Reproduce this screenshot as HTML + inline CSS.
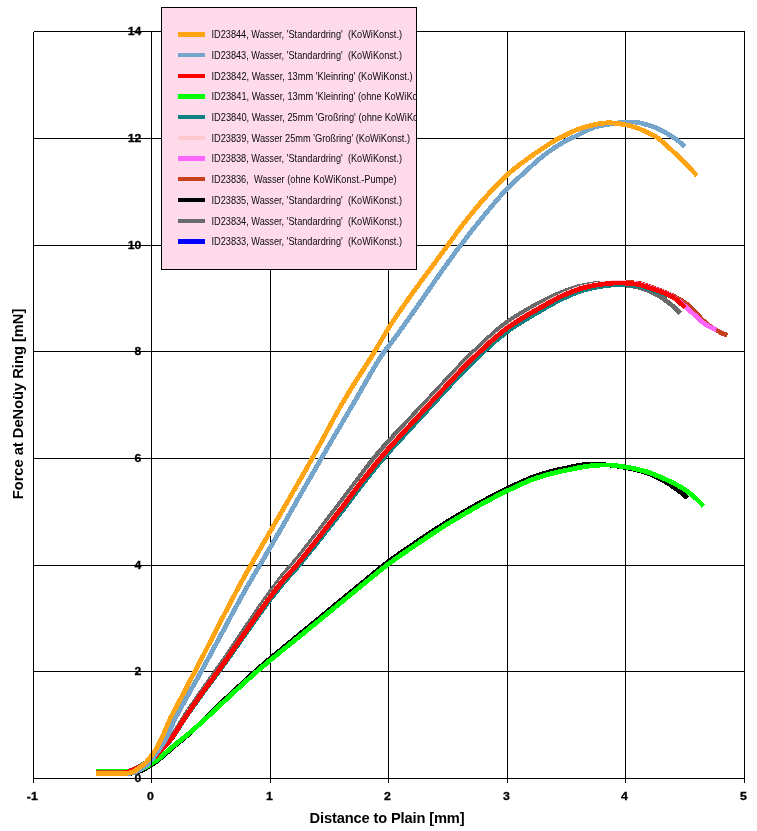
<!DOCTYPE html>
<html><head><meta charset="utf-8"><title>Force at DeNoüy Ring</title>
<style>
html,body{margin:0;padding:0;background:#fff}
svg{display:block}
text{font-family:"Liberation Sans",Arial,sans-serif}
.tk{font-size:11.2px;font-weight:bold;fill:#000;stroke:#000;stroke-width:0.3px}
.ttl{font-size:14.67px;font-weight:bold;fill:#000}
.lg{font-size:10.3px;fill:#0a0a0a}
.c{fill:none;stroke-linejoin:round;stroke-linecap:butt}
</style></head><body>
<svg width="757" height="831" viewBox="0 0 757 831">
<rect width="757" height="831" fill="#fff"/>

<g stroke="#000" stroke-width="1" shape-rendering="crispEdges">
<line x1="33.5" y1="31.5" x2="33.5" y2="782.5"/>
<line x1="151.5" y1="31.5" x2="151.5" y2="782.5"/>
<line x1="270.5" y1="31.5" x2="270.5" y2="782.5"/>
<line x1="388.5" y1="31.5" x2="388.5" y2="782.5"/>
<line x1="507.5" y1="31.5" x2="507.5" y2="782.5"/>
<line x1="625.5" y1="31.5" x2="625.5" y2="782.5"/>
<line x1="744.5" y1="31.5" x2="744.5" y2="782.5"/>
<line x1="33.5" y1="778.5" x2="744.5" y2="778.5"/>
<line x1="33.5" y1="671.5" x2="744.5" y2="671.5"/>
<line x1="33.5" y1="565.5" x2="744.5" y2="565.5"/>
<line x1="33.5" y1="458.5" x2="744.5" y2="458.5"/>
<line x1="33.5" y1="351.5" x2="744.5" y2="351.5"/>
<line x1="33.5" y1="245.5" x2="744.5" y2="245.5"/>
<line x1="33.5" y1="138.5" x2="744.5" y2="138.5"/>
<line x1="33.5" y1="31.5" x2="744.5" y2="31.5"/>
</g>
<g class="c" shape-rendering="crispEdges" stroke-width="4.8">
<path d="M96.0,773.3 L97.3,773.3 L98.6,773.3 L100.0,773.3 L101.3,773.3 L102.6,773.3 L103.9,773.3 L105.3,773.3 L106.6,773.3 L107.9,773.3 L109.2,773.3 L110.5,773.3 L111.9,773.3 L113.2,773.3 L114.5,773.3 L115.8,773.3 L117.2,773.3 L118.5,773.3 L119.8,773.3 L121.1,773.3 L122.4,773.3 L123.8,773.1 L125.1,772.8 L126.4,772.5 L127.7,772.1 L129.1,771.7 L130.4,771.1 L131.7,770.6 L133.0,770.0 L134.3,769.3 L135.7,768.7 L137.0,768.1 L138.3,767.4 L139.6,766.7 L141.0,766.0 L142.3,765.3 L143.6,764.6 L144.9,763.9 L146.2,763.2 L147.6,762.4 L148.9,761.6 L150.2,760.7 L151.5,759.8 L152.9,758.7 L154.2,757.5 L155.5,756.3 L156.8,754.9 L158.1,753.5 L159.5,752.1 L160.8,750.7 L162.1,749.2 L163.4,747.7 L164.8,746.2 L166.1,744.8 L167.4,743.3 L168.7,741.9 L170.0,740.3 L171.4,738.6 L172.7,736.8 L174.0,734.8 L175.3,732.7 L176.7,730.6 L178.0,728.6 L179.3,726.5 L180.6,724.4 L181.9,722.3 L183.3,720.2 L184.6,718.2 L185.9,716.2 L187.2,714.3 L188.6,712.3 L189.9,710.4 L191.2,708.5 L192.5,706.6 L193.8,704.7 L195.2,702.8 L196.5,701.0 L197.8,699.1 L199.1,697.2 L200.5,695.4 L201.8,693.5 L203.1,691.7 L204.4,689.9 L205.7,688.0 L207.1,686.2 L208.4,684.4 L209.7,682.6 L211.0,680.8 L212.4,679.0 L213.7,677.2 L215.0,675.4 L216.3,673.6 L217.6,671.8 L219.0,670.0 L220.3,668.1 L221.6,666.3 L222.9,664.4 L224.3,662.6 L225.6,660.7 L226.9,658.8 L228.2,656.9 L229.5,655.0 L230.9,653.1 L232.2,651.2 L233.5,649.3 L234.8,647.4 L236.2,645.5 L237.5,643.6 L238.8,641.6 L240.1,639.7 L241.4,637.8 L242.8,635.9 L244.1,634.0 L245.4,632.1 L246.7,630.1 L248.1,628.2 L249.4,626.3 L250.7,624.4 L252.0,622.5 L253.3,620.6 L254.7,618.7 L256.0,616.8 L257.3,615.0 L258.6,613.1 L260.0,611.2 L261.3,609.4 L262.6,607.5 L263.9,605.7 L265.2,603.9 L266.6,602.0 L267.9,600.2 L269.2,598.4 L270.5,596.7 L271.9,594.9 L273.2,593.1 L274.5,591.4 L275.8,589.7 L277.1,588.0 L278.5,586.3 L279.8,584.6 L281.1,583.0 L282.4,581.3 L283.8,579.7 L285.1,578.2 L286.4,576.7 L287.7,575.2 L289.0,573.7 L290.4,572.2 L291.7,570.8 L293.0,569.3 L294.3,567.8 L295.7,566.3 L297.0,564.7 L298.3,563.1 L299.6,561.5 L300.9,559.9 L302.3,558.3 L303.6,556.7 L304.9,555.0 L306.2,553.4 L307.6,551.7 L308.9,550.1 L310.2,548.4 L311.5,546.7 L312.8,545.1 L314.2,543.4 L315.5,541.7 L316.8,540.0 L318.1,538.3 L319.5,536.6 L320.8,534.9 L322.1,533.2 L323.4,531.5 L324.7,529.8 L326.1,528.1 L327.4,526.4 L328.7,524.7 L330.0,523.0 L331.4,521.3 L332.7,519.7 L334.0,518.0 L335.3,516.3 L336.6,514.6 L338.0,512.8 L339.3,511.1 L340.6,509.4 L341.9,507.7 L343.3,505.9 L344.6,504.2 L345.9,502.5 L347.2,500.7 L348.5,499.0 L349.9,497.2 L351.2,495.5 L352.5,493.7 L353.8,492.0 L355.2,490.2 L356.5,488.5 L357.8,486.8 L359.1,485.0 L360.4,483.3 L361.8,481.6 L363.1,479.9 L364.4,478.2 L365.7,476.5 L367.1,474.8 L368.4,473.1 L369.7,471.4 L371.0,469.7 L372.3,468.1 L373.7,466.4 L375.0,464.8 L376.3,463.2 L377.6,461.6 L378.9,460.0 L380.3,458.4 L381.6,456.9 L382.9,455.3 L384.2,453.8 L385.6,452.2 L386.9,450.7 L388.2,449.2 L389.5,447.7 L390.8,446.2 L392.2,444.8 L393.5,443.3 L394.8,441.8 L396.1,440.4 L397.5,438.9 L398.8,437.5 L400.1,436.0 L401.4,434.6 L402.7,433.2 L404.1,431.7 L405.4,430.3 L406.7,428.9 L408.0,427.5 L409.4,426.0 L410.7,424.6 L412.0,423.2 L413.3,421.8 L414.6,420.3 L416.0,418.9 L417.3,417.5 L418.6,416.0 L419.9,414.6 L421.3,413.2 L422.6,411.7 L423.9,410.3 L425.2,408.8 L426.5,407.4 L427.9,405.9 L429.2,404.5 L430.5,403.1 L431.8,401.6 L433.2,400.2 L434.5,398.7 L435.8,397.3 L437.1,395.9 L438.4,394.4 L439.8,393.0 L441.1,391.5 L442.4,390.1 L443.7,388.7 L445.1,387.3 L446.4,385.8 L447.7,384.4 L449.0,383.0 L450.3,381.6 L451.7,380.2 L453.0,378.8 L454.3,377.4 L455.6,376.0 L457.0,374.6 L458.3,373.2 L459.6,371.9 L460.9,370.5 L462.2,369.1 L463.6,367.8 L464.9,366.5 L466.2,365.1 L467.5,363.8 L468.9,362.5 L470.2,361.1 L471.5,359.8 L472.8,358.5 L474.1,357.3 L475.5,356.0 L476.8,354.7 L478.1,353.4 L479.4,352.2 L480.8,351.0 L482.1,349.7 L483.4,348.5 L484.7,347.3 L486.0,346.0 L487.4,344.8 L488.7,343.6 L490.0,342.4 L491.3,341.2 L492.7,340.0 L494.0,338.8 L495.3,337.7 L496.6,336.6 L497.9,335.4 L499.3,334.3 L500.6,333.2 L501.9,332.2 L503.2,331.1 L504.6,330.1 L505.9,329.1 L507.2,328.2 L508.5,327.2 L509.8,326.3 L511.2,325.4 L512.5,324.5 L513.8,323.6 L515.1,322.7 L516.5,321.8 L517.8,321.0 L519.1,320.2 L520.4,319.3 L521.7,318.5 L523.1,317.7 L524.4,316.9 L525.7,316.1 L527.0,315.3 L528.4,314.6 L529.7,313.8 L531.0,313.0 L532.3,312.3 L533.6,311.5 L535.0,310.8 L536.3,310.0 L537.6,309.3 L538.9,308.5 L540.3,307.8 L541.6,307.0 L542.9,306.3 L544.2,305.5 L545.5,304.8 L546.9,304.0 L548.2,303.3 L549.5,302.5 L550.8,301.8 L552.2,301.0 L553.5,300.3 L554.8,299.6 L556.1,298.9 L557.4,298.2 L558.8,297.6 L560.1,296.9 L561.4,296.3 L562.7,295.7 L564.1,295.1 L565.4,294.5 L566.7,294.0 L568.0,293.4 L569.3,292.8 L570.7,292.3 L572.0,291.8 L573.3,291.2 L574.6,290.7 L576.0,290.2 L577.3,289.8 L578.6,289.3 L579.9,288.9 L581.2,288.5 L582.6,288.1 L583.9,287.8 L585.2,287.4 L586.5,287.1 L587.9,286.8 L589.2,286.5 L590.5,286.2 L591.8,286.0 L593.1,285.7 L594.5,285.4 L595.8,285.2 L597.1,285.0 L598.4,284.7 L599.8,284.5 L601.1,284.3 L602.4,284.2 L603.7,284.0 L605.0,283.9 L606.4,283.7 L607.7,283.6 L609.0,283.5 L610.3,283.3 L611.7,283.2 L613.0,283.1 L614.3,283.0 L615.6,283.0 L616.9,282.9 L618.3,282.9 L619.6,282.9 L620.9,282.9 L622.2,283.0 L623.6,283.0 L624.9,283.1 L626.2,283.2 L627.5,283.3 L628.8,283.4 L630.2,283.5 L631.5,283.7 L632.8,283.8 L634.1,283.9 L635.5,284.1 L636.8,284.2 L638.1,284.4 L639.4,284.7 L640.7,284.9 L642.1,285.3 L643.4,285.7 L644.7,286.1 L646.0,286.5 L647.4,287.0 L648.7,287.5 L650.0,287.9" stroke="#0000FF"/>
<path d="M96.0,773.3 L97.2,773.3 L98.3,773.3 L99.5,773.3 L100.7,773.2 L101.9,773.2 L103.0,773.2 L104.2,773.2 L105.4,773.2 L106.5,773.2 L107.7,773.2 L108.9,773.2 L110.1,773.1 L111.2,773.1 L112.4,773.1 L113.6,773.1 L114.7,773.1 L115.9,773.1 L117.1,773.1 L118.3,773.0 L119.4,773.0 L120.6,773.0 L121.8,773.0 L122.9,773.0 L124.1,772.8 L125.3,772.6 L126.4,772.2 L127.6,771.8 L128.8,771.4 L130.0,770.9 L131.1,770.4 L132.3,769.9 L133.5,769.4 L134.6,768.8 L135.8,768.3 L137.0,767.6 L138.2,767.0 L139.3,766.4 L140.5,765.7 L141.7,765.1 L142.8,764.4 L144.0,763.7 L145.2,763.1 L146.4,762.4 L147.5,761.6 L148.7,760.8 L149.9,760.0 L151.0,759.1 L152.2,758.1 L153.4,757.0 L154.6,755.9 L155.7,754.7 L156.9,753.5 L158.1,752.3 L159.2,751.1 L160.4,749.9 L161.6,748.6 L162.8,747.3 L163.9,746.0 L165.1,744.7 L166.3,743.3 L167.4,741.8 L168.6,740.3 L169.8,738.8 L171.0,737.2 L172.1,735.5 L173.3,733.8 L174.5,732.1 L175.6,730.4 L176.8,728.6 L178.0,726.8 L179.2,725.0 L180.3,723.1 L181.5,721.2 L182.7,719.3 L183.8,717.4 L185.0,715.5 L186.2,713.7 L187.3,712.0 L188.5,710.2 L189.7,708.5 L190.9,706.8 L192.0,705.0 L193.2,703.3 L194.4,701.6 L195.5,699.9 L196.7,698.2 L197.9,696.5 L199.1,694.8 L200.2,693.2 L201.4,691.5 L202.6,689.8 L203.7,688.1 L204.9,686.5 L206.1,684.8 L207.3,683.2 L208.4,681.6 L209.6,679.9 L210.8,678.3 L211.9,676.7 L213.1,675.0 L214.3,673.4 L215.5,671.7 L216.6,670.1 L217.8,668.4 L219.0,666.8 L220.1,665.1 L221.3,663.4 L222.5,661.7 L223.7,660.1 L224.8,658.4 L226.0,656.6 L227.2,654.9 L228.3,653.2 L229.5,651.5 L230.7,649.8 L231.9,648.1 L233.0,646.3 L234.2,644.6 L235.4,642.9 L236.5,641.1 L237.7,639.4 L238.9,637.6 L240.1,635.9 L241.2,634.2 L242.4,632.4 L243.6,630.7 L244.7,628.9 L245.9,627.2 L247.1,625.4 L248.2,623.7 L249.4,622.0 L250.6,620.3 L251.8,618.5 L252.9,616.8 L254.1,615.1 L255.3,613.4 L256.4,611.7 L257.6,610.0 L258.8,608.3 L260.0,606.6 L261.1,604.9 L262.3,603.2 L263.5,601.5 L264.6,599.9 L265.8,598.2 L267.0,596.6 L268.2,594.9 L269.3,593.3 L270.5,591.7 L271.7,590.1 L272.8,588.5 L274.0,586.9 L275.2,585.3 L276.4,583.8 L277.5,582.2 L278.7,580.7 L279.9,579.2 L281.0,577.7 L282.2,576.2 L283.4,574.7 L284.6,573.3 L285.7,571.9 L286.9,570.5 L288.1,569.2 L289.2,567.9 L290.4,566.5 L291.6,565.2 L292.8,563.8 L293.9,562.4 L295.1,561.0 L296.3,559.6 L297.4,558.2 L298.6,556.8 L299.8,555.3 L300.9,553.9 L302.1,552.4 L303.3,550.9 L304.5,549.4 L305.6,547.9 L306.8,546.4 L308.0,544.9 L309.1,543.4 L310.3,541.9 L311.5,540.4 L312.7,538.9 L313.8,537.3 L315.0,535.8 L316.2,534.3 L317.3,532.7 L318.5,531.2 L319.7,529.6 L320.9,528.1 L322.0,526.6 L323.2,525.0 L324.4,523.5 L325.5,521.9 L326.7,520.4 L327.9,518.8 L329.1,517.3 L330.2,515.8 L331.4,514.2 L332.6,512.7 L333.7,511.2 L334.9,509.7 L336.1,508.2 L337.3,506.6 L338.4,505.1 L339.6,503.5 L340.8,502.0 L341.9,500.4 L343.1,498.9 L344.3,497.3 L345.5,495.7 L346.6,494.2 L347.8,492.6 L349.0,491.0 L350.1,489.5 L351.3,487.9 L352.5,486.3 L353.7,484.7 L354.8,483.2 L356.0,481.6 L357.2,480.1 L358.3,478.5 L359.5,476.9 L360.7,475.4 L361.8,473.8 L363.0,472.3 L364.2,470.7 L365.4,469.2 L366.5,467.7 L367.7,466.2 L368.9,464.6 L370.0,463.1 L371.2,461.6 L372.4,460.2 L373.6,458.7 L374.7,457.2 L375.9,455.8 L377.1,454.3 L378.2,452.9 L379.4,451.5 L380.6,450.1 L381.8,448.7 L382.9,447.4 L384.1,446.1 L385.3,444.8 L386.4,443.5 L387.6,442.2 L388.8,440.9 L390.0,439.6 L391.1,438.4 L392.3,437.1 L393.5,435.9 L394.6,434.6 L395.8,433.4 L397.0,432.1 L398.2,430.9 L399.3,429.7 L400.5,428.4 L401.7,427.2 L402.8,426.0 L404.0,424.8 L405.2,423.6 L406.4,422.3 L407.5,421.1 L408.7,419.9 L409.9,418.7 L411.0,417.5 L412.2,416.3 L413.4,415.0 L414.6,413.8 L415.7,412.6 L416.9,411.4 L418.1,410.2 L419.2,408.9 L420.4,407.7 L421.6,406.5 L422.7,405.3 L423.9,404.0 L425.1,402.8 L426.3,401.6 L427.4,400.3 L428.6,399.1 L429.8,397.8 L430.9,396.5 L432.1,395.3 L433.3,394.0 L434.5,392.7 L435.6,391.5 L436.8,390.2 L438.0,388.9 L439.1,387.7 L440.3,386.4 L441.5,385.1 L442.7,383.9 L443.8,382.6 L445.0,381.3 L446.2,380.1 L447.3,378.8 L448.5,377.6 L449.7,376.3 L450.9,375.1 L452.0,373.8 L453.2,372.6 L454.4,371.3 L455.5,370.1 L456.7,368.9 L457.9,367.7 L459.1,366.4 L460.2,365.2 L461.4,364.0 L462.6,362.8 L463.7,361.6 L464.9,360.4 L466.1,359.2 L467.3,358.1 L468.4,356.9 L469.6,355.7 L470.8,354.6 L471.9,353.4 L473.1,352.3 L474.3,351.1 L475.5,350.0 L476.6,348.9 L477.8,347.8 L479.0,346.6 L480.1,345.5 L481.3,344.4 L482.5,343.3 L483.6,342.2 L484.8,341.1 L486.0,340.1 L487.2,339.0 L488.3,337.9 L489.5,336.9 L490.7,335.8 L491.8,334.7 L493.0,333.7 L494.2,332.7 L495.4,331.6 L496.5,330.6 L497.7,329.6 L498.9,328.7 L500.0,327.7 L501.2,326.8 L502.4,325.8 L503.6,324.9 L504.7,324.0 L505.9,323.1 L507.1,322.3 L508.2,321.4 L509.4,320.6 L510.6,319.8 L511.8,319.0 L512.9,318.3 L514.1,317.5 L515.3,316.8 L516.4,316.0 L517.6,315.3 L518.8,314.6 L520.0,313.9 L521.1,313.2 L522.3,312.5 L523.5,311.8 L524.6,311.1 L525.8,310.4 L527.0,309.8 L528.2,309.1 L529.3,308.4 L530.5,307.8 L531.7,307.1 L532.8,306.5 L534.0,305.8 L535.2,305.2 L536.3,304.5 L537.5,303.9 L538.7,303.2 L539.9,302.6 L541.0,302.0 L542.2,301.4 L543.4,300.8 L544.5,300.2 L545.7,299.6 L546.9,299.0 L548.1,298.5 L549.2,297.9 L550.4,297.3 L551.6,296.8 L552.7,296.2 L553.9,295.7 L555.1,295.2 L556.3,294.7 L557.4,294.2 L558.6,293.7 L559.8,293.2 L560.9,292.7 L562.1,292.3 L563.3,291.8 L564.5,291.4 L565.6,291.0 L566.8,290.6 L568.0,290.1 L569.1,289.7 L570.3,289.3 L571.5,288.9 L572.7,288.5 L573.8,288.1 L575.0,287.8 L576.2,287.4 L577.3,287.1 L578.5,286.7 L579.7,286.4 L580.9,286.1 L582.0,285.9 L583.2,285.6 L584.4,285.4 L585.5,285.2 L586.7,285.0 L587.9,284.8 L589.1,284.6 L590.2,284.4 L591.4,284.3 L592.6,284.1 L593.7,283.9 L594.9,283.7 L596.1,283.6 L597.2,283.5 L598.4,283.3 L599.6,283.2 L600.8,283.1 L601.9,283.1 L603.1,283.0 L604.3,283.0 L605.4,283.0 L606.6,283.0 L607.8,283.1 L609.0,283.1 L610.1,283.2 L611.3,283.3 L612.5,283.4 L613.6,283.6 L614.8,283.7 L616.0,283.8 L617.2,284.0 L618.3,284.1 L619.5,284.2 L620.7,284.4 L621.8,284.5 L623.0,284.6 L624.2,284.8 L625.4,284.9 L626.5,285.1 L627.7,285.2 L628.9,285.4 L630.0,285.6 L631.2,285.8 L632.4,286.0 L633.6,286.2 L634.7,286.4 L635.9,286.6 L637.1,286.9 L638.2,287.1 L639.4,287.4 L640.6,287.8 L641.8,288.1 L642.9,288.5 L644.1,288.9 L645.3,289.3 L646.4,289.8 L647.6,290.3 L648.8,290.8 L650.0,291.3 L651.1,291.8 L652.3,292.3 L653.5,292.9 L654.6,293.5 L655.8,294.1 L657.0,294.7 L658.1,295.4 L659.3,296.1 L660.5,296.8 L661.7,297.6 L662.8,298.4 L664.0,299.3 L665.2,300.1 L666.3,301.0 L667.5,301.9 L668.7,302.8 L669.9,303.7 L671.0,304.6 L672.2,305.6 L673.4,306.6 L674.5,307.6 L675.7,308.7 L676.9,309.8 L678.1,310.9 L679.2,312.0 L680.4,313.2" stroke="#6A6A6A"/>
<path d="M96.0,773.3 L97.4,773.3 L98.8,773.3 L100.2,773.3 L101.6,773.3 L103.1,773.3 L104.5,773.3 L105.9,773.3 L107.3,773.3 L108.7,773.3 L110.1,773.3 L111.5,773.3 L112.9,773.3 L114.3,773.3 L115.8,773.3 L117.2,773.3 L118.6,773.3 L120.0,773.3 L121.4,773.3 L122.8,773.3 L124.2,773.3 L125.6,773.3 L127.1,773.3 L128.5,773.3 L129.9,773.3 L131.3,773.2 L132.7,773.0 L134.1,772.7 L135.5,772.3 L136.9,771.9 L138.3,771.4 L139.8,771.0 L141.2,770.5 L142.6,769.9 L144.0,769.2 L145.4,768.5 L146.8,767.7 L148.2,766.8 L149.6,765.9 L151.0,764.9 L152.5,764.0 L153.9,763.1 L155.3,762.1 L156.7,761.2 L158.1,760.1 L159.5,759.0 L160.9,757.8 L162.3,756.6 L163.7,755.4 L165.2,754.1 L166.6,752.9 L168.0,751.7 L169.4,750.4 L170.8,749.2 L172.2,748.0 L173.6,746.7 L175.0,745.5 L176.5,744.4 L177.9,743.2 L179.3,742.1 L180.7,741.0 L182.1,739.8 L183.5,738.7 L184.9,737.6 L186.3,736.3 L187.7,735.1 L189.2,733.8 L190.6,732.5 L192.0,731.2 L193.4,729.9 L194.8,728.5 L196.2,727.2 L197.6,725.9 L199.0,724.5 L200.4,723.2 L201.9,721.8 L203.3,720.4 L204.7,719.1 L206.1,717.7 L207.5,716.3 L208.9,714.9 L210.3,713.5 L211.7,712.1 L213.2,710.6 L214.6,709.2 L216.0,707.9 L217.4,706.5 L218.8,705.2 L220.2,703.9 L221.6,702.5 L223.0,701.2 L224.4,699.9 L225.9,698.5 L227.3,697.2 L228.7,695.9 L230.1,694.6 L231.5,693.3 L232.9,692.0 L234.3,690.7 L235.7,689.3 L237.1,688.0 L238.6,686.7 L240.0,685.4 L241.4,684.1 L242.8,682.8 L244.2,681.5 L245.6,680.2 L247.0,678.9 L248.4,677.6 L249.8,676.3 L251.3,675.0 L252.7,673.7 L254.1,672.5 L255.5,671.2 L256.9,670.0 L258.3,668.7 L259.7,667.5 L261.1,666.3 L262.6,665.1 L264.0,663.9 L265.4,662.6 L266.8,661.4 L268.2,660.2 L269.6,659.1 L271.0,657.9 L272.4,656.7 L273.8,655.5 L275.3,654.3 L276.7,653.2 L278.1,652.0 L279.5,650.8 L280.9,649.7 L282.3,648.5 L283.7,647.3 L285.1,646.2 L286.5,645.0 L288.0,643.9 L289.4,642.7 L290.8,641.6 L292.2,640.4 L293.6,639.3 L295.0,638.1 L296.4,636.9 L297.8,635.8 L299.2,634.6 L300.7,633.5 L302.1,632.3 L303.5,631.2 L304.9,630.0 L306.3,628.9 L307.7,627.7 L309.1,626.5 L310.5,625.4 L312.0,624.2 L313.4,623.0 L314.8,621.9 L316.2,620.7 L317.6,619.6 L319.0,618.4 L320.4,617.2 L321.8,616.1 L323.2,614.9 L324.7,613.7 L326.1,612.6 L327.5,611.4 L328.9,610.2 L330.3,609.1 L331.7,607.9 L333.1,606.8 L334.5,605.6 L335.9,604.4 L337.4,603.3 L338.8,602.1 L340.2,601.0 L341.6,599.8 L343.0,598.6 L344.4,597.5 L345.8,596.3 L347.2,595.2 L348.7,594.0 L350.1,592.8 L351.5,591.7 L352.9,590.5 L354.3,589.4 L355.7,588.2 L357.1,587.1 L358.5,585.9 L359.9,584.8 L361.4,583.6 L362.8,582.5 L364.2,581.3 L365.6,580.1 L367.0,579.0 L368.4,577.8 L369.8,576.6 L371.2,575.4 L372.6,574.3 L374.1,573.1 L375.5,571.9 L376.9,570.8 L378.3,569.6 L379.7,568.5 L381.1,567.4 L382.5,566.3 L383.9,565.1 L385.3,564.0 L386.8,563.0 L388.2,561.9 L389.6,560.8 L391.0,559.8 L392.4,558.7 L393.8,557.7 L395.2,556.7 L396.6,555.7 L398.1,554.7 L399.5,553.7 L400.9,552.8 L402.3,551.8 L403.7,550.8 L405.1,549.9 L406.5,548.9 L407.9,547.9 L409.3,547.0 L410.8,546.0 L412.2,545.0 L413.6,544.1 L415.0,543.1 L416.4,542.1 L417.8,541.2 L419.2,540.2 L420.6,539.3 L422.0,538.3 L423.5,537.3 L424.9,536.4 L426.3,535.4 L427.7,534.5 L429.1,533.6 L430.5,532.6 L431.9,531.7 L433.3,530.8 L434.7,529.8 L436.2,528.9 L437.6,528.0 L439.0,527.1 L440.4,526.2 L441.8,525.3 L443.2,524.4 L444.6,523.5 L446.0,522.6 L447.5,521.7 L448.9,520.9 L450.3,520.0 L451.7,519.2 L453.1,518.3 L454.5,517.4 L455.9,516.6 L457.3,515.8 L458.7,514.9 L460.2,514.1 L461.6,513.2 L463.0,512.4 L464.4,511.6 L465.8,510.8 L467.2,510.0 L468.6,509.1 L470.0,508.3 L471.4,507.5 L472.9,506.7 L474.3,505.9 L475.7,505.1 L477.1,504.3 L478.5,503.6 L479.9,502.8 L481.3,502.0 L482.7,501.2 L484.2,500.5 L485.6,499.7 L487.0,498.9 L488.4,498.2 L489.8,497.4 L491.2,496.7 L492.6,495.9 L494.0,495.2 L495.4,494.4 L496.9,493.7 L498.3,493.0 L499.7,492.2 L501.1,491.5 L502.5,490.8 L503.9,490.1 L505.3,489.5 L506.7,488.8 L508.1,488.1 L509.6,487.4 L511.0,486.8 L512.4,486.1 L513.8,485.4 L515.2,484.8 L516.6,484.1 L518.0,483.5 L519.4,482.8 L520.8,482.2 L522.3,481.5 L523.7,480.9 L525.1,480.3 L526.5,479.7 L527.9,479.1 L529.3,478.5 L530.7,477.9 L532.1,477.4 L533.6,476.8 L535.0,476.3 L536.4,475.9 L537.8,475.4 L539.2,474.9 L540.6,474.5 L542.0,474.1 L543.4,473.6 L544.8,473.2 L546.3,472.8 L547.7,472.4 L549.1,472.1 L550.5,471.7 L551.9,471.3 L553.3,471.0 L554.7,470.6 L556.1,470.3 L557.5,469.9 L559.0,469.6 L560.4,469.3 L561.8,469.0 L563.2,468.7 L564.6,468.4 L566.0,468.1 L567.4,467.8 L568.8,467.5 L570.2,467.2 L571.7,466.9 L573.1,466.6 L574.5,466.3 L575.9,466.0 L577.3,465.8 L578.7,465.5 L580.1,465.3 L581.5,465.0 L583.0,464.8 L584.4,464.5 L585.8,464.4 L587.2,464.4 L588.6,464.3 L590.0,464.3 L591.4,464.3 L592.8,464.3 L594.2,464.3 L595.7,464.4 L597.1,464.4 L598.5,464.4 L599.9,464.5 L601.3,464.5 L602.7,464.6 L604.1,464.7 L605.5,464.9 L606.9,464.9 L608.4,465.0 L609.8,465.1 L611.2,465.2 L612.6,465.3 L614.0,465.5 L615.4,465.7 L616.8,466.0 L618.2,466.2 L619.7,466.4 L621.1,466.7 L622.5,467.0 L623.9,467.2 L625.3,467.5 L626.7,467.7 L628.1,468.0 L629.5,468.3 L630.9,468.5 L632.4,468.9 L633.8,469.2 L635.2,469.5 L636.6,469.9 L638.0,470.2 L639.4,470.6 L640.8,471.0 L642.2,471.4 L643.6,471.9 L645.1,472.3 L646.5,472.8 L647.9,473.3 L649.3,473.8 L650.7,474.3 L652.1,474.9 L653.5,475.6 L654.9,476.2 L656.3,476.9 L657.8,477.6 L659.2,478.3 L660.6,479.1 L662.0,479.8 L663.4,480.6 L664.8,481.3 L666.2,482.2 L667.6,483.1 L669.1,484.0 L670.5,484.9 L671.9,485.9 L673.3,486.9 L674.7,487.9 L676.1,488.9 L677.5,490.0 L678.9,491.0 L680.3,492.1 L681.8,493.2 L683.2,494.4 L684.6,495.5 L686.0,496.7 L687.4,497.9" stroke="#000000"/>
<path d="M96.0,772.6 L97.5,772.6 L99.0,772.6 L100.5,772.6 L102.0,772.6 L103.5,772.6 L105.0,772.6 L106.5,772.6 L108.1,772.6 L109.6,772.6 L111.1,772.6 L112.6,772.6 L114.1,772.6 L115.6,772.6 L117.1,772.6 L118.6,772.6 L120.1,772.6 L121.6,772.6 L123.1,772.6 L124.6,772.4 L126.1,772.1 L127.6,771.7 L129.1,771.3 L130.7,770.8 L132.2,770.2 L133.7,769.6 L135.2,769.0 L136.7,768.2 L138.2,767.5 L139.7,766.7 L141.2,765.9 L142.7,765.1 L144.2,764.3 L145.7,763.5 L147.2,762.6 L148.7,761.7 L150.2,760.7 L151.7,759.6 L153.3,758.4 L154.8,757.0 L156.3,755.5 L157.8,753.9 L159.3,752.3 L160.8,750.7 L162.3,749.0 L163.8,747.3 L165.3,745.6 L166.8,744.0 L168.3,742.3 L169.8,740.6 L171.3,738.7 L172.8,736.5 L174.3,734.3 L175.9,731.9 L177.4,729.5 L178.9,727.2 L180.4,724.8 L181.9,722.4 L183.4,720.0 L184.9,717.7 L186.4,715.5 L187.9,713.3 L189.4,711.1 L190.9,708.9 L192.4,706.7 L193.9,704.6 L195.4,702.4 L196.9,700.3 L198.5,698.2 L200.0,696.1 L201.5,693.9 L203.0,691.8 L204.5,689.8 L206.0,687.7 L207.5,685.6 L209.0,683.6 L210.5,681.5 L212.0,679.5 L213.5,677.4 L215.0,675.4 L216.5,673.3 L218.0,671.2 L219.5,669.2 L221.1,667.1 L222.6,664.9 L224.1,662.8 L225.6,660.7 L227.1,658.5 L228.6,656.4 L230.1,654.2 L231.6,652.1 L233.1,649.9 L234.6,647.7 L236.1,645.5 L237.6,643.3 L239.1,641.2 L240.6,639.0 L242.1,636.8 L243.7,634.6 L245.2,632.4 L246.7,630.2 L248.2,628.0 L249.7,625.9 L251.2,623.7 L252.7,621.5 L254.2,619.4 L255.7,617.2 L257.2,615.1 L258.7,612.9 L260.2,610.8 L261.7,608.7 L263.2,606.6 L264.7,604.5 L266.3,602.5 L267.8,600.4 L269.3,598.4 L270.8,596.3 L272.3,594.3 L273.8,592.3 L275.3,590.4 L276.8,588.4 L278.3,586.5 L279.8,584.6 L281.3,582.7 L282.8,580.8 L284.3,579.0 L285.8,577.3 L287.3,575.6 L288.9,573.9 L290.4,572.2 L291.9,570.6 L293.4,568.9 L294.9,567.2 L296.4,565.4 L297.9,563.6 L299.4,561.8 L300.9,560.0 L302.4,558.1 L303.9,556.3 L305.4,554.4 L306.9,552.5 L308.4,550.6 L309.9,548.7 L311.5,546.8 L313.0,544.9 L314.5,543.0 L316.0,541.1 L317.5,539.1 L319.0,537.2 L320.5,535.3 L322.0,533.3 L323.5,531.4 L325.0,529.5 L326.5,527.5 L328.0,525.6 L329.5,523.7 L331.0,521.7 L332.5,519.8 L334.1,517.9 L335.6,515.9 L337.1,514.0 L338.6,512.0 L340.1,510.1 L341.6,508.1 L343.1,506.1 L344.6,504.2 L346.1,502.2 L347.6,500.2 L349.1,498.2 L350.6,496.2 L352.1,494.2 L353.6,492.2 L355.1,490.2 L356.7,488.3 L358.2,486.3 L359.7,484.3 L361.2,482.3 L362.7,480.4 L364.2,478.4 L365.7,476.5 L367.2,474.6 L368.7,472.6 L370.2,470.7 L371.7,468.8 L373.2,467.0 L374.7,465.1 L376.2,463.3 L377.7,461.4 L379.3,459.6 L380.8,457.8 L382.3,456.1 L383.8,454.3 L385.3,452.6 L386.8,450.8 L388.3,449.1 L389.8,447.4 L391.3,445.7 L392.8,444.1 L394.3,442.4 L395.8,440.7 L397.3,439.1 L398.8,437.4 L400.3,435.8 L401.9,434.1 L403.4,432.5 L404.9,430.9 L406.4,429.3 L407.9,427.6 L409.4,426.0 L410.9,424.4 L412.4,422.8 L413.9,421.1 L415.4,419.5 L416.9,417.9 L418.4,416.2 L419.9,414.6 L421.4,413.0 L423.0,411.3 L424.5,409.7 L426.0,408.0 L427.5,406.4 L429.0,404.7 L430.5,403.1 L432.0,401.4 L433.5,399.8 L435.0,398.2 L436.5,396.5 L438.0,394.9 L439.5,393.2 L441.0,391.6 L442.5,390.0 L444.0,388.4 L445.6,386.7 L447.1,385.1 L448.6,383.5 L450.1,381.9 L451.6,380.3 L453.1,378.7 L454.6,377.1 L456.1,375.5 L457.6,374.0 L459.1,372.4 L460.6,370.8 L462.1,369.3 L463.6,367.7 L465.1,366.2 L466.6,364.7 L468.2,363.2 L469.7,361.7 L471.2,360.2 L472.7,358.7 L474.2,357.2 L475.7,355.8 L477.2,354.3 L478.7,352.9 L480.2,351.5 L481.7,350.1 L483.2,348.7 L484.7,347.3 L486.2,345.9 L487.7,344.5 L489.2,343.1 L490.8,341.7 L492.3,340.4 L493.8,339.0 L495.3,337.7 L496.8,336.4 L498.3,335.1 L499.8,333.9 L501.3,332.7 L502.8,331.5 L504.3,330.3 L505.8,329.2 L507.3,328.1 L508.8,327.0 L510.3,325.9 L511.8,324.9 L513.4,323.9 L514.9,322.9 L516.4,321.9 L517.9,320.9 L519.4,320.0 L520.9,319.0 L522.4,318.1 L523.9,317.2 L525.4,316.3 L526.9,315.4 L528.4,314.5 L529.9,313.6 L531.4,312.8 L532.9,311.9 L534.4,311.0 L536.0,310.2 L537.5,309.3 L539.0,308.5 L540.5,307.6 L542.0,306.8 L543.5,305.9 L545.0,305.1 L546.5,304.2 L548.0,303.4 L549.5,302.5 L551.0,301.7 L552.5,300.8 L554.0,300.0 L555.5,299.2 L557.0,298.4 L558.6,297.7 L560.1,296.9 L561.6,296.2 L563.1,295.5 L564.6,294.9 L566.1,294.2 L567.6,293.6 L569.1,292.9 L570.6,292.3 L572.1,291.7 L573.6,291.1 L575.1,290.5 L576.6,290.0 L578.1,289.5 L579.6,289.0 L581.2,288.5 L582.7,288.1 L584.2,287.7 L585.7,287.3 L587.2,287.0 L588.7,286.6 L590.2,286.3 L591.7,286.0 L593.2,285.7 L594.7,285.4 L596.2,285.1 L597.7,284.9 L599.2,284.6 L600.7,284.4 L602.2,284.1 L603.8,283.9 L605.3,283.7 L606.8,283.5 L608.3,283.3 L609.8,283.1 L611.3,282.9 L612.8,282.8 L614.3,282.6 L615.8,282.5 L617.3,282.4 L618.8,282.3 L620.3,282.3 L621.8,282.3 L623.3,282.3 L624.8,282.4 L626.4,282.4 L627.9,282.5 L629.4,282.6 L630.9,282.7 L632.4,282.8 L633.9,282.9 L635.4,283.0 L636.9,283.2 L638.4,283.3 L639.9,283.6 L641.4,283.9 L642.9,284.3 L644.4,284.8 L645.9,285.3 L647.4,285.8 L649.0,286.4 L650.5,286.9 L652.0,287.5 L653.5,288.0 L655.0,288.5 L656.5,289.1 L658.0,289.6 L659.5,290.2 L661.0,290.7 L662.5,291.3 L664.0,291.9 L665.5,292.5 L667.0,293.2 L668.5,293.8 L670.0,294.5 L671.6,295.2 L673.1,296.0 L674.6,296.7 L676.1,297.5 L677.6,298.3 L679.1,299.1 L680.6,300.0 L682.1,300.9 L683.6,301.9 L685.1,302.9 L686.6,304.0 L688.1,305.1 L689.6,306.4 L691.1,307.9 L692.6,309.5 L694.2,311.3 L695.7,313.0 L697.2,314.6 L698.7,316.1 L700.2,317.6 L701.7,319.2 L703.2,320.6 L704.7,322.0 L706.2,323.3 L707.7,324.5 L709.2,325.6 L710.7,326.7 L712.2,327.7 L713.7,328.7 L715.2,329.6 L716.8,330.4 L718.3,331.2 L719.8,332.0 L721.3,332.8 L722.8,333.5 L724.3,334.2 L725.8,334.8 L727.3,335.4" stroke="#C8401C"/>
<path d="M96.0,773.3 L97.5,773.3 L99.0,773.3 L100.4,773.3 L101.9,773.3 L103.4,773.3 L104.9,773.3 L106.4,773.3 L107.8,773.3 L109.3,773.3 L110.8,773.3 L112.3,773.3 L113.8,773.3 L115.2,773.3 L116.7,773.3 L118.2,773.3 L119.7,773.3 L121.2,773.3 L122.6,773.3 L124.1,773.1 L125.6,772.7 L127.1,772.3 L128.6,771.8 L130.0,771.3 L131.5,770.6 L133.0,770.0 L134.5,769.3 L136.0,768.6 L137.4,767.8 L138.9,767.1 L140.4,766.3 L141.9,765.5 L143.4,764.7 L144.8,763.9 L146.3,763.1 L147.8,762.3 L149.3,761.3 L150.8,760.3 L152.2,759.2 L153.7,758.0 L155.2,756.5 L156.7,755.0 L158.2,753.5 L159.6,751.9 L161.1,750.3 L162.6,748.7 L164.1,747.0 L165.6,745.3 L167.0,743.7 L168.5,742.1 L170.0,740.4 L171.5,738.5 L173.0,736.3 L174.5,734.1 L175.9,731.8 L177.4,729.4 L178.9,727.1 L180.4,724.8 L181.9,722.4 L183.3,720.1 L184.8,717.9 L186.3,715.7 L187.8,713.5 L189.3,711.3 L190.7,709.2 L192.2,707.0 L193.7,704.9 L195.2,702.8 L196.7,700.7 L198.1,698.6 L199.6,696.5 L201.1,694.5 L202.6,692.4 L204.1,690.4 L205.5,688.3 L207.0,686.3 L208.5,684.3 L210.0,682.3 L211.5,680.3 L212.9,678.2 L214.4,676.2 L215.9,674.2 L217.4,672.2 L218.9,670.1 L220.3,668.1 L221.8,666.0 L223.3,663.9 L224.8,661.8 L226.3,659.7 L227.7,657.6 L229.2,655.5 L230.7,653.4 L232.2,651.2 L233.7,649.1 L235.1,647.0 L236.6,644.8 L238.1,642.7 L239.6,640.5 L241.1,638.4 L242.5,636.2 L244.0,634.1 L245.5,631.9 L247.0,629.8 L248.5,627.6 L249.9,625.5 L251.4,623.4 L252.9,621.2 L254.4,619.1 L255.9,617.0 L257.3,614.9 L258.8,612.8 L260.3,610.7 L261.8,608.7 L263.3,606.6 L264.7,604.5 L266.2,602.5 L267.7,600.5 L269.2,598.5 L270.7,596.5 L272.1,594.5 L273.6,592.6 L275.1,590.6 L276.6,588.7 L278.1,586.8 L279.5,584.9 L281.0,583.1 L282.5,581.2 L284.0,579.4 L285.5,577.7 L286.9,576.0 L288.4,574.4 L289.9,572.7 L291.4,571.1 L292.9,569.4 L294.3,567.8 L295.8,566.1 L297.3,564.3 L298.8,562.5 L300.3,560.7 L301.7,558.9 L303.2,557.1 L304.7,555.3 L306.2,553.4 L307.7,551.6 L309.1,549.7 L310.6,547.9 L312.1,546.0 L313.6,544.1 L315.1,542.2 L316.5,540.3 L318.0,538.4 L319.5,536.5 L321.0,534.6 L322.5,532.7 L323.9,530.8 L325.4,528.9 L326.9,527.0 L328.4,525.1 L329.9,523.2 L331.4,521.3 L332.8,519.5 L334.3,517.6 L335.8,515.7 L337.3,513.7 L338.8,511.8 L340.2,509.9 L341.7,508.0 L343.2,506.0 L344.7,504.1 L346.2,502.1 L347.6,500.2 L349.1,498.2 L350.6,496.3 L352.1,494.3 L353.6,492.3 L355.0,490.4 L356.5,488.4 L358.0,486.5 L359.5,484.6 L361.0,482.6 L362.4,480.7 L363.9,478.8 L365.4,476.9 L366.9,475.0 L368.4,473.1 L369.8,471.2 L371.3,469.4 L372.8,467.5 L374.3,465.7 L375.8,463.9 L377.2,462.1 L378.7,460.3 L380.2,458.5 L381.7,456.8 L383.2,455.0 L384.6,453.3 L386.1,451.6 L387.6,449.9 L389.1,448.2 L390.6,446.6 L392.0,444.9 L393.5,443.3 L395.0,441.6 L396.5,440.0 L398.0,438.4 L399.4,436.8 L400.9,435.2 L402.4,433.6 L403.9,432.0 L405.4,430.4 L406.8,428.8 L408.3,427.2 L409.8,425.6 L411.3,424.0 L412.8,422.4 L414.2,420.8 L415.7,419.2 L417.2,417.6 L418.7,416.0 L420.2,414.4 L421.6,412.7 L423.1,411.1 L424.6,409.5 L426.1,407.9 L427.6,406.3 L429.0,404.7 L430.5,403.1 L432.0,401.4 L433.5,399.8 L435.0,398.2 L436.4,396.6 L437.9,395.0 L439.4,393.4 L440.9,391.8 L442.4,390.2 L443.8,388.6 L445.3,387.0 L446.8,385.4 L448.3,383.8 L449.8,382.2 L451.2,380.6 L452.7,379.1 L454.2,377.5 L455.7,376.0 L457.2,374.4 L458.6,372.9 L460.1,371.3 L461.6,369.8 L463.1,368.3 L464.6,366.8 L466.0,365.3 L467.5,363.8 L469.0,362.3 L470.5,360.8 L472.0,359.4 L473.4,357.9 L474.9,356.5 L476.4,355.1 L477.9,353.7 L479.4,352.3 L480.8,350.9 L482.3,349.5 L483.8,348.1 L485.3,346.7 L486.8,345.4 L488.3,344.0 L489.7,342.6 L491.2,341.3 L492.7,340.0 L494.2,338.7 L495.7,337.4 L497.1,336.1 L498.6,334.9 L500.1,333.6 L501.6,332.4 L503.1,331.3 L504.5,330.1 L506.0,329.0 L507.5,327.9 L509.0,326.9 L510.5,325.9 L511.9,324.8 L513.4,323.8 L514.9,322.9 L516.4,321.9 L517.9,320.9 L519.3,320.0 L520.8,319.1 L522.3,318.2 L523.8,317.3 L525.3,316.4 L526.7,315.5 L528.2,314.6 L529.7,313.8 L531.2,312.9 L532.7,312.1 L534.1,311.2 L535.6,310.4 L537.1,309.5 L538.6,308.7 L540.1,307.9 L541.5,307.0 L543.0,306.2 L544.5,305.4 L546.0,304.5 L547.5,303.7 L548.9,302.8 L550.4,302.0 L551.9,301.2 L553.4,300.4 L554.9,299.6 L556.3,298.8 L557.8,298.0 L559.3,297.3 L560.8,296.6 L562.3,295.9 L563.7,295.3 L565.2,294.6 L566.7,294.0 L568.2,293.3 L569.7,292.7 L571.1,292.1 L572.6,291.5 L574.1,290.9 L575.6,290.4 L577.1,289.8 L578.5,289.3 L580.0,288.8 L581.5,288.4 L583.0,288.0 L584.5,287.6 L585.9,287.3 L587.4,286.9 L588.9,286.6 L590.4,286.3 L591.9,285.9 L593.3,285.7 L594.8,285.4 L596.3,285.1 L597.8,284.9 L599.3,284.6 L600.7,284.4 L602.2,284.2 L603.7,284.0 L605.2,283.8 L606.7,283.6 L608.1,283.5 L609.6,283.3 L611.1,283.1 L612.6,283.0 L614.1,282.9 L615.5,282.8 L617.0,282.7 L618.5,282.7 L620.0,282.7 L621.5,282.7 L622.9,282.7 L624.4,282.8 L625.9,282.9 L627.4,282.9 L628.9,283.0 L630.3,283.2 L631.8,283.3 L633.3,283.4 L634.8,283.6 L636.3,283.7 L637.7,283.9 L639.2,284.1 L640.7,284.4 L642.2,284.8 L643.7,285.3 L645.2,285.7 L646.6,286.2 L648.1,286.8 L649.6,287.3 L651.1,287.9 L652.6,288.4 L654.0,288.9 L655.5,289.5 L657.0,290.0 L658.5,290.5 L660.0,291.0 L661.4,291.6 L662.9,292.1 L664.4,292.7 L665.9,293.3 L667.4,294.0 L668.8,294.6 L670.3,295.4 L671.8,296.1 L673.3,297.0 L674.8,298.0 L676.2,299.0 L677.7,300.2 L679.2,301.4 L680.7,302.6 L682.2,303.9 L683.6,305.1 L685.1,306.4 L686.6,307.7 L688.1,309.0 L689.6,310.3 L691.0,311.7 L692.5,313.0 L694.0,314.4 L695.5,315.8 L697.0,317.1 L698.4,318.5 L699.9,319.8 L701.4,321.2 L702.9,322.4 L704.4,323.6 L705.8,324.6 L707.3,325.5 L708.8,326.4 L710.3,327.2 L711.8,327.9 L713.2,328.6 L714.7,329.1 L716.2,329.6" stroke="#FF66FF"/>
<path d="M96.0,773.3 L97.4,773.3 L98.8,773.3 L100.2,773.3 L101.5,773.3 L102.9,773.3 L104.3,773.3 L105.7,773.3 L107.1,773.3 L108.5,773.3 L109.8,773.3 L111.2,773.3 L112.6,773.3 L114.0,773.3 L115.4,773.3 L116.8,773.3 L118.1,773.3 L119.5,773.3 L120.9,773.3 L122.3,773.3 L123.7,773.1 L125.1,772.8 L126.5,772.5 L127.8,772.0 L129.2,771.6 L130.6,771.0 L132.0,770.4 L133.4,769.8 L134.8,769.1 L136.1,768.5 L137.5,767.8 L138.9,767.1 L140.3,766.3 L141.7,765.6 L143.1,764.9 L144.4,764.2 L145.8,763.4 L147.2,762.6 L148.6,761.8 L150.0,760.9 L151.4,759.9 L152.8,758.8 L154.1,757.6 L155.5,756.2 L156.9,754.8 L158.3,753.4 L159.7,751.9 L161.1,750.4 L162.4,748.9 L163.8,747.3 L165.2,745.7 L166.6,744.2 L168.0,742.7 L169.4,741.1 L170.7,739.4 L172.1,737.6 L173.5,735.5 L174.9,733.4 L176.3,731.2 L177.7,729.0 L179.1,726.9 L180.4,724.7 L181.8,722.5 L183.2,720.3 L184.6,718.2 L186.0,716.1 L187.4,714.1 L188.7,712.0 L190.1,710.0 L191.5,708.0 L192.9,706.0 L194.3,704.1 L195.7,702.1 L197.1,700.2 L198.4,698.2 L199.8,696.3 L201.2,694.3 L202.6,692.4 L204.0,690.5 L205.4,688.6 L206.7,686.7 L208.1,684.8 L209.5,682.9 L210.9,681.0 L212.3,679.1 L213.7,677.2 L215.0,675.4 L216.4,673.5 L217.8,671.6 L219.2,669.6 L220.6,667.7 L222.0,665.8 L223.4,663.8 L224.7,661.9 L226.1,659.9 L227.5,657.9 L228.9,656.0 L230.3,654.0 L231.7,652.0 L233.0,650.0 L234.4,648.0 L235.8,646.0 L237.2,644.0 L238.6,642.0 L240.0,640.0 L241.3,637.9 L242.7,635.9 L244.1,633.9 L245.5,631.9 L246.9,629.9 L248.3,627.9 L249.7,625.9 L251.0,623.9 L252.4,621.9 L253.8,619.9 L255.2,617.9 L256.6,615.8 L258.0,613.9 L259.3,611.9 L260.7,609.9 L262.1,607.9 L263.5,606.0 L264.9,604.0 L266.3,602.1 L267.6,600.2 L269.0,598.3 L270.4,596.4 L271.8,594.5 L273.2,592.6 L274.6,590.8 L276.0,588.9 L277.3,587.1 L278.7,585.3 L280.1,583.6 L281.5,581.8 L282.9,580.1 L284.3,578.4 L285.6,576.7 L287.0,575.1 L288.4,573.5 L289.8,572.0 L291.2,570.4 L292.6,568.9 L293.9,567.3 L295.3,565.6 L296.7,564.0 L298.1,562.3 L299.5,560.6 L300.9,558.9 L302.3,557.2 L303.6,555.5 L305.0,553.8 L306.4,552.1 L307.8,550.3 L309.2,548.6 L310.6,546.8 L311.9,545.1 L313.3,543.3 L314.7,541.6 L316.1,539.8 L317.5,538.0 L318.9,536.3 L320.2,534.5 L321.6,532.7 L323.0,530.9 L324.4,529.1 L325.8,527.4 L327.2,525.6 L328.6,523.8 L329.9,522.0 L331.3,520.3 L332.7,518.5 L334.1,516.7 L335.5,515.0 L336.9,513.2 L338.2,511.4 L339.6,509.6 L341.0,507.8 L342.4,506.0 L343.8,504.1 L345.2,502.3 L346.5,500.5 L347.9,498.7 L349.3,496.8 L350.7,495.0 L352.1,493.2 L353.5,491.4 L354.9,489.5 L356.2,487.7 L357.6,485.9 L359.0,484.1 L360.4,482.3 L361.8,480.5 L363.2,478.7 L364.5,476.9 L365.9,475.1 L367.3,473.3 L368.7,471.6 L370.1,469.8 L371.5,468.1 L372.8,466.3 L374.2,464.6 L375.6,462.9 L377.0,461.2 L378.4,459.6 L379.8,457.9 L381.2,456.3 L382.5,454.6 L383.9,453.0 L385.3,451.4 L386.7,449.8 L388.1,448.3 L389.5,446.7 L390.8,445.2 L392.2,443.6 L393.6,442.1 L395.0,440.5 L396.4,439.0 L397.8,437.5 L399.2,436.0 L400.5,434.5 L401.9,433.0 L403.3,431.5 L404.7,430.0 L406.1,428.5 L407.5,427.0 L408.8,425.5 L410.2,424.0 L411.6,422.5 L413.0,421.0 L414.4,419.5 L415.8,418.0 L417.1,416.5 L418.5,415.0 L419.9,413.5 L421.3,412.0 L422.7,410.5 L424.1,409.0 L425.5,407.5 L426.8,406.0 L428.2,404.5 L429.6,403.0 L431.0,401.4 L432.4,399.9 L433.8,398.4 L435.1,396.9 L436.5,395.4 L437.9,393.9 L439.3,392.4 L440.7,390.9 L442.1,389.4 L443.4,387.9 L444.8,386.4 L446.2,384.9 L447.6,383.4 L449.0,382.0 L450.4,380.5 L451.8,379.0 L453.1,377.5 L454.5,376.1 L455.9,374.6 L457.3,373.2 L458.7,371.7 L460.1,370.3 L461.4,368.9 L462.8,367.5 L464.2,366.0 L465.6,364.6 L467.0,363.2 L468.4,361.9 L469.7,360.5 L471.1,359.1 L472.5,357.7 L473.9,356.4 L475.3,355.1 L476.7,353.7 L478.1,352.4 L479.4,351.1 L480.8,349.8 L482.2,348.5 L483.6,347.2 L485.0,345.9 L486.4,344.6 L487.7,343.4 L489.1,342.1 L490.5,340.8 L491.9,339.6 L493.3,338.4 L494.7,337.1 L496.0,335.9 L497.4,334.8 L498.8,333.6 L500.2,332.5 L501.6,331.3 L503.0,330.2 L504.4,329.2 L505.7,328.1 L507.1,327.1 L508.5,326.1 L509.9,325.1 L511.3,324.2 L512.7,323.2 L514.0,322.3 L515.4,321.4 L516.8,320.5 L518.2,319.6 L519.6,318.8 L521.0,317.9 L522.3,317.0 L523.7,316.2 L525.1,315.4 L526.5,314.6 L527.9,313.7 L529.3,312.9 L530.7,312.1 L532.0,311.3 L533.4,310.5 L534.8,309.7 L536.2,309.0 L537.6,308.2 L539.0,307.4 L540.3,306.6 L541.7,305.8 L543.1,305.1 L544.5,304.3 L545.9,303.5 L547.3,302.7 L548.6,302.0 L550.0,301.2 L551.4,300.5 L552.8,299.7 L554.2,299.0 L555.6,298.3 L557.0,297.5 L558.3,296.9 L559.7,296.2 L561.1,295.5 L562.5,294.9 L563.9,294.3 L565.3,293.7 L566.6,293.2 L568.0,292.6 L569.4,292.0 L570.8,291.5 L572.2,290.9 L573.6,290.4 L574.9,289.9 L576.3,289.4 L577.7,288.9 L579.1,288.4 L580.5,288.0 L581.9,287.6 L583.3,287.2 L584.6,286.9 L586.0,286.6 L587.4,286.3 L588.8,286.0 L590.2,285.7 L591.6,285.4 L592.9,285.2 L594.3,284.9 L595.7,284.7 L597.1,284.4 L598.5,284.2 L599.9,284.0 L601.3,283.8 L602.6,283.7 L604.0,283.5 L605.4,283.4 L606.8,283.2 L608.2,283.1 L609.6,283.0 L610.9,282.9 L612.3,282.8 L613.7,282.7 L615.1,282.6 L616.5,282.5 L617.9,282.5 L619.2,282.5 L620.6,282.6 L622.0,282.6 L623.4,282.7 L624.8,282.8 L626.2,282.9 L627.6,283.0 L628.9,283.1 L630.3,283.2 L631.7,283.4 L633.1,283.5 L634.5,283.7 L635.9,283.9 L637.2,284.0 L638.6,284.3 L640.0,284.5 L641.4,284.9 L642.8,285.3 L644.2,285.7 L645.5,286.1 L646.9,286.6 L648.3,287.1 L649.7,287.7 L651.1,288.2 L652.5,288.7 L653.9,289.2 L655.2,289.7 L656.6,290.2 L658.0,290.6 L659.4,291.1 L660.8,291.6 L662.2,292.1 L663.5,292.7 L664.9,293.2 L666.3,293.8 L667.7,294.4 L669.1,295.1 L670.5,295.8 L671.8,296.6 L673.2,297.4 L674.6,298.4 L676.0,299.4" stroke="#FFC8CC"/>
<path d="M96.0,773.3 L97.4,773.3 L98.7,773.3 L100.1,773.3 L101.5,773.3 L102.8,773.3 L104.2,773.3 L105.6,773.3 L106.9,773.3 L108.3,773.3 L109.7,773.3 L111.0,773.3 L112.4,773.3 L113.7,773.3 L115.1,773.3 L116.5,773.3 L117.8,773.3 L119.2,773.3 L120.6,773.3 L121.9,773.3 L123.3,773.2 L124.7,772.9 L126.0,772.6 L127.4,772.2 L128.8,771.8 L130.1,771.2 L131.5,770.7 L132.9,770.0 L134.2,769.4 L135.6,768.8 L137.0,768.1 L138.3,767.4 L139.7,766.7 L141.1,765.9 L142.4,765.2 L143.8,764.5 L145.1,763.8 L146.5,763.0 L147.9,762.2 L149.2,761.4 L150.6,760.4 L152.0,759.5 L153.3,758.4 L154.7,757.1 L156.1,755.8 L157.4,754.4 L158.8,753.0 L160.2,751.5 L161.5,750.1 L162.9,748.6 L164.3,747.1 L165.6,745.6 L167.0,744.1 L168.4,742.7 L169.7,741.1 L171.1,739.4 L172.4,737.5 L173.8,735.5 L175.2,733.5 L176.5,731.3 L177.9,729.2 L179.3,727.1 L180.6,725.0 L182.0,722.8 L183.4,720.7 L184.7,718.7 L186.1,716.7 L187.5,714.7 L188.8,712.7 L190.2,710.7 L191.6,708.8 L192.9,706.9 L194.3,704.9 L195.7,703.0 L197.0,701.1 L198.4,699.2 L199.8,697.3 L201.1,695.5 L202.5,693.6 L203.8,691.7 L205.2,689.9 L206.6,688.0 L207.9,686.2 L209.3,684.4 L210.7,682.5 L212.0,680.7 L213.4,678.9 L214.8,677.1 L216.1,675.2 L217.5,673.4 L218.9,671.5 L220.2,669.6 L221.6,667.8 L223.0,665.9 L224.3,664.0 L225.7,662.1 L227.1,660.2 L228.4,658.2 L229.8,656.3 L231.2,654.4 L232.5,652.4 L233.9,650.5 L235.2,648.5 L236.6,646.6 L238.0,644.7 L239.3,642.7 L240.7,640.7 L242.1,638.8 L243.4,636.8 L244.8,634.9 L246.2,632.9 L247.5,631.0 L248.9,629.0 L250.3,627.1 L251.6,625.2 L253.0,623.2 L254.4,621.3 L255.7,619.4 L257.1,617.5 L258.5,615.6 L259.8,613.7 L261.2,611.8 L262.5,609.9 L263.9,608.1 L265.3,606.2 L266.6,604.4 L268.0,602.5 L269.4,600.7 L270.7,598.9 L272.1,597.1 L273.5,595.3 L274.8,593.6 L276.2,591.8 L277.6,590.1 L278.9,588.4 L280.3,586.7 L281.7,585.0 L283.0,583.3 L284.4,581.7 L285.8,580.1 L287.1,578.6 L288.5,577.1 L289.9,575.6 L291.2,574.1 L292.6,572.6 L293.9,571.1 L295.3,569.6 L296.7,568.0 L298.0,566.4 L299.4,564.8 L300.8,563.1 L302.1,561.5 L303.5,559.8 L304.9,558.2 L306.2,556.5 L307.6,554.8 L309.0,553.1 L310.3,551.4 L311.7,549.7 L313.1,548.0 L314.4,546.3 L315.8,544.6 L317.2,542.8 L318.5,541.1 L319.9,539.4 L321.3,537.6 L322.6,535.9 L324.0,534.2 L325.3,532.4 L326.7,530.7 L328.1,529.0 L329.4,527.3 L330.8,525.5 L332.2,523.8 L333.5,522.1 L334.9,520.3 L336.3,518.6 L337.6,516.8 L339.0,515.0 L340.4,513.2 L341.7,511.5 L343.1,509.7 L344.5,507.9 L345.8,506.1 L347.2,504.3 L348.6,502.5 L349.9,500.7 L351.3,498.9 L352.6,497.1 L354.0,495.3 L355.4,493.5 L356.7,491.7 L358.1,489.9 L359.5,488.1 L360.8,486.3 L362.2,484.6 L363.6,482.8 L364.9,481.0 L366.3,479.3 L367.7,477.5 L369.0,475.8 L370.4,474.1 L371.8,472.4 L373.1,470.7 L374.5,469.0 L375.9,467.3 L377.2,465.7 L378.6,464.0 L380.0,462.4 L381.3,460.8 L382.7,459.2 L384.0,457.6 L385.4,456.0 L386.8,454.5 L388.1,452.9 L389.5,451.4 L390.9,449.8 L392.2,448.3 L393.6,446.8 L395.0,445.3 L396.3,443.8 L397.7,442.3 L399.1,440.8 L400.4,439.3 L401.8,437.9 L403.2,436.4 L404.5,434.9 L405.9,433.4 L407.3,432.0 L408.6,430.5 L410.0,429.0 L411.4,427.6 L412.7,426.1 L414.1,424.6 L415.4,423.1 L416.8,421.7 L418.2,420.2 L419.5,418.7 L420.9,417.2 L422.3,415.7 L423.6,414.3 L425.0,412.8 L426.4,411.3 L427.7,409.8 L429.1,408.3 L430.5,406.8 L431.8,405.3 L433.2,403.8 L434.6,402.3 L435.9,400.8 L437.3,399.4 L438.7,397.9 L440.0,396.4 L441.4,394.9 L442.7,393.4 L444.1,391.9 L445.5,390.5 L446.8,389.0 L448.2,387.5 L449.6,386.1 L450.9,384.6 L452.3,383.2 L453.7,381.7 L455.0,380.3 L456.4,378.8 L457.8,377.4 L459.1,376.0 L460.5,374.6 L461.9,373.2 L463.2,371.8 L464.6,370.4 L466.0,369.0 L467.3,367.6 L468.7,366.2 L470.1,364.9 L471.4,363.5 L472.8,362.2 L474.1,360.8 L475.5,359.5 L476.9,358.2 L478.2,356.9 L479.6,355.6 L481.0,354.3 L482.3,353.0 L483.7,351.8 L485.1,350.5 L486.4,349.2 L487.8,348.0 L489.2,346.7 L490.5,345.5 L491.9,344.2 L493.3,343.0 L494.6,341.8 L496.0,340.6 L497.4,339.5 L498.7,338.3 L500.1,337.2 L501.5,336.1 L502.8,335.0 L504.2,333.9 L505.5,332.9 L506.9,331.9 L508.3,330.9 L509.6,329.9 L511.0,328.9 L512.4,328.0 L513.7,327.1 L515.1,326.1 L516.5,325.2 L517.8,324.4 L519.2,323.5 L520.6,322.6 L521.9,321.8 L523.3,320.9 L524.7,320.1 L526.0,319.3 L527.4,318.4 L528.8,317.6 L530.1,316.8 L531.5,316.0 L532.8,315.2 L534.2,314.4 L535.6,313.6 L536.9,312.8 L538.3,312.1 L539.7,311.3 L541.0,310.5 L542.4,309.7 L543.8,308.9 L545.1,308.1 L546.5,307.3 L547.9,306.6 L549.2,305.8 L550.6,305.0 L552.0,304.2 L553.3,303.5 L554.7,302.7 L556.1,302.0 L557.4,301.3 L558.8,300.6 L560.2,299.9 L561.5,299.2 L562.9,298.6 L564.2,297.9 L565.6,297.3 L567.0,296.7 L568.3,296.1 L569.7,295.5 L571.1,294.9 L572.4,294.3 L573.8,293.7 L575.2,293.1 L576.5,292.6 L577.9,292.1 L579.3,291.6 L580.6,291.1 L582.0,290.7 L583.4,290.3 L584.7,289.9 L586.1,289.6 L587.5,289.2 L588.8,288.9 L590.2,288.5 L591.6,288.2 L592.9,287.9 L594.3,287.6 L595.6,287.3 L597.0,287.1 L598.4,286.8 L599.7,286.5 L601.1,286.3 L602.5,286.1 L603.8,286.0 L605.2,285.8 L606.6,285.6 L607.9,285.5 L609.3,285.3 L610.7,285.2 L612.0,285.0 L613.4,284.9 L614.8,284.8 L616.1,284.7 L617.5,284.7 L618.9,284.7 L620.2,284.7 L621.6,284.7 L622.9,284.7 L624.3,284.8 L625.7,284.8 L627.0,284.9 L628.4,285.0 L629.8,285.1 L631.1,285.2 L632.5,285.4 L633.9,285.5 L635.2,285.6 L636.6,285.8 L638.0,285.9 L639.3,286.1 L640.7,286.4 L642.1,286.7 L643.4,287.1 L644.8,287.5 L646.2,288.0 L647.5,288.4 L648.9,288.9 L650.3,289.4 L651.6,289.8 L653.0,290.3 L654.3,290.8 L655.7,291.2 L657.1,291.7 L658.4,292.1 L659.8,292.6 L661.2,293.0 L662.5,293.5 L663.9,294.0 L665.3,294.5 L666.6,295.1 L668.0,295.7" stroke="#108080"/>
<path d="M96.0,771.5 L97.4,771.5 L98.9,771.5 L100.3,771.5 L101.8,771.5 L103.2,771.5 L104.7,771.5 L106.1,771.5 L107.6,771.5 L109.0,771.5 L110.5,771.5 L111.9,771.5 L113.4,771.5 L114.8,771.5 L116.3,771.5 L117.7,771.5 L119.2,771.5 L120.6,771.5 L122.1,771.5 L123.5,771.5 L125.0,771.5 L126.4,771.5 L127.9,771.5 L129.3,771.5 L130.8,771.5 L132.2,771.4 L133.7,771.1 L135.1,770.8 L136.6,770.5 L138.0,770.1 L139.5,769.6 L140.9,769.2 L142.4,768.7 L143.8,768.0 L145.3,767.4 L146.7,766.6 L148.2,765.8 L149.6,764.8 L151.1,763.9 L152.5,762.9 L154.0,762.0 L155.4,761.1 L156.9,760.1 L158.3,759.0 L159.8,757.9 L161.2,756.6 L162.7,755.4 L164.1,754.1 L165.6,752.8 L167.0,751.6 L168.5,750.4 L169.9,749.1 L171.4,747.8 L172.8,746.6 L174.3,745.3 L175.7,744.1 L177.2,742.9 L178.6,741.8 L180.1,740.6 L181.5,739.5 L183.0,738.3 L184.4,737.2 L185.9,736.0 L187.3,734.8 L188.8,733.6 L190.2,732.4 L191.7,731.1 L193.1,729.9 L194.6,728.6 L196.0,727.3 L197.5,726.1 L198.9,724.8 L200.4,723.5 L201.8,722.2 L203.3,720.9 L204.7,719.6 L206.2,718.2 L207.6,716.9 L209.1,715.5 L210.5,714.2 L212.0,712.8 L213.4,711.5 L214.9,710.1 L216.3,708.8 L217.7,707.4 L219.2,706.0 L220.6,704.7 L222.1,703.3 L223.5,702.0 L225.0,700.6 L226.4,699.3 L227.9,698.0 L229.3,696.6 L230.8,695.3 L232.2,694.0 L233.7,692.6 L235.1,691.3 L236.6,689.9 L238.0,688.6 L239.5,687.3 L240.9,685.9 L242.4,684.6 L243.8,683.3 L245.3,681.9 L246.7,680.6 L248.2,679.3 L249.6,678.0 L251.1,676.7 L252.5,675.4 L254.0,674.1 L255.4,672.9 L256.9,671.6 L258.3,670.3 L259.8,669.1 L261.2,667.9 L262.7,666.6 L264.1,665.4 L265.6,664.2 L267.0,663.0 L268.5,661.8 L269.9,660.5 L271.4,659.3 L272.8,658.1 L274.3,657.0 L275.7,655.8 L277.2,654.6 L278.6,653.4 L280.1,652.2 L281.5,651.0 L283.0,649.9 L284.4,648.7 L285.9,647.5 L287.3,646.4 L288.8,645.2 L290.2,644.0 L291.7,642.8 L293.1,641.7 L294.6,640.5 L296.0,639.3 L297.5,638.2 L298.9,637.0 L300.4,635.8 L301.8,634.6 L303.3,633.5 L304.7,632.3 L306.2,631.1 L307.6,629.9 L309.1,628.7 L310.5,627.5 L312.0,626.3 L313.4,625.1 L314.9,624.0 L316.3,622.8 L317.8,621.6 L319.2,620.4 L320.7,619.2 L322.1,618.0 L323.6,616.8 L325.0,615.6 L326.5,614.4 L327.9,613.2 L329.4,612.1 L330.8,610.9 L332.3,609.7 L333.7,608.5 L335.2,607.3 L336.6,606.1 L338.1,604.9 L339.5,603.7 L340.9,602.5 L342.4,601.4 L343.8,600.2 L345.3,599.0 L346.7,597.8 L348.2,596.6 L349.6,595.4 L351.1,594.3 L352.5,593.1 L354.0,591.9 L355.4,590.7 L356.9,589.5 L358.3,588.3 L359.8,587.2 L361.2,586.0 L362.7,584.8 L364.1,583.6 L365.6,582.4 L367.0,581.2 L368.5,580.0 L369.9,578.8 L371.4,577.6 L372.8,576.4 L374.3,575.2 L375.7,574.1 L377.2,572.9 L378.6,571.7 L380.1,570.5 L381.5,569.4 L383.0,568.2 L384.4,567.1 L385.9,566.0 L387.3,564.9 L388.8,563.8 L390.2,562.7 L391.7,561.7 L393.1,560.6 L394.6,559.6 L396.0,558.5 L397.5,557.5 L398.9,556.5 L400.4,555.5 L401.8,554.5 L403.3,553.5 L404.7,552.5 L406.2,551.5 L407.6,550.5 L409.1,549.5 L410.5,548.5 L412.0,547.6 L413.4,546.6 L414.9,545.6 L416.3,544.6 L417.8,543.6 L419.2,542.6 L420.7,541.6 L422.1,540.6 L423.6,539.7 L425.0,538.7 L426.5,537.7 L427.9,536.7 L429.4,535.8 L430.8,534.8 L432.3,533.8 L433.7,532.9 L435.2,531.9 L436.6,531.0 L438.1,530.0 L439.5,529.1 L441.0,528.2 L442.4,527.2 L443.9,526.3 L445.3,525.4 L446.8,524.5 L448.2,523.6 L449.7,522.7 L451.1,521.9 L452.6,521.0 L454.0,520.1 L455.5,519.2 L456.9,518.3 L458.4,517.5 L459.8,516.6 L461.2,515.8 L462.7,514.9 L464.1,514.1 L465.6,513.2 L467.0,512.4 L468.5,511.5 L469.9,510.7 L471.4,509.9 L472.8,509.1 L474.3,508.2 L475.7,507.4 L477.2,506.6 L478.6,505.8 L480.1,505.0 L481.5,504.2 L483.0,503.4 L484.4,502.6 L485.9,501.8 L487.3,501.0 L488.8,500.3 L490.2,499.5 L491.7,498.7 L493.1,497.9 L494.6,497.2 L496.0,496.4 L497.5,495.7 L498.9,494.9 L500.4,494.2 L501.8,493.5 L503.3,492.7 L504.7,492.0 L506.2,491.3 L507.6,490.6 L509.1,490.0 L510.5,489.3 L512.0,488.6 L513.4,487.9 L514.9,487.2 L516.3,486.5 L517.8,485.8 L519.2,485.2 L520.7,484.5 L522.1,483.8 L523.6,483.2 L525.0,482.6 L526.5,481.9 L527.9,481.3 L529.4,480.7 L530.8,480.1 L532.3,479.6 L533.7,479.0 L535.2,478.5 L536.6,478.0 L538.1,477.5 L539.5,477.1 L541.0,476.6 L542.4,476.2 L543.9,475.8 L545.3,475.3 L546.8,474.9 L548.2,474.5 L549.7,474.1 L551.1,473.8 L552.6,473.4 L554.0,473.0 L555.5,472.7 L556.9,472.3 L558.4,472.0 L559.8,471.6 L561.3,471.3 L562.7,471.0 L564.2,470.7 L565.6,470.4 L567.1,470.1 L568.5,469.8 L570.0,469.5 L571.4,469.2 L572.9,468.9 L574.3,468.6 L575.8,468.3 L577.2,468.0 L578.7,467.7 L580.1,467.5 L581.6,467.2 L583.0,467.0 L584.4,466.7 L585.9,466.5 L587.3,466.3 L588.8,466.1 L590.2,465.9 L591.7,465.8 L593.1,465.7 L594.6,465.5 L596.0,465.4 L597.5,465.3 L598.9,465.2 L600.4,465.1 L601.8,465.0 L603.3,464.9 L604.7,464.9 L606.2,464.9 L607.6,464.9 L609.1,465.0 L610.5,465.1 L612.0,465.2 L613.4,465.3 L614.9,465.5 L616.3,465.7 L617.8,465.9 L619.2,466.1 L620.7,466.3 L622.1,466.5 L623.6,466.7 L625.0,466.9 L626.5,467.1 L627.9,467.4 L629.4,467.6 L630.8,467.9 L632.3,468.2 L633.7,468.5 L635.2,468.8 L636.6,469.1 L638.1,469.5 L639.5,469.8 L641.0,470.2 L642.4,470.6 L643.9,471.0 L645.3,471.4 L646.8,471.8 L648.2,472.3 L649.7,472.7 L651.1,473.3 L652.6,473.8 L654.0,474.4 L655.5,474.9 L656.9,475.5 L658.4,476.1 L659.8,476.8 L661.3,477.4 L662.7,478.0 L664.2,478.7 L665.6,479.3 L667.1,480.0 L668.5,480.7 L670.0,481.4 L671.4,482.1 L672.9,482.8 L674.3,483.5 L675.8,484.3 L677.2,485.1 L678.7,485.9 L680.1,486.7 L681.6,487.6 L683.0,488.5 L684.5,489.4 L685.9,490.4 L687.4,491.4 L688.8,492.5 L690.3,493.7 L691.7,494.9 L693.2,496.1 L694.6,497.4 L696.1,498.7 L697.5,500.1 L699.0,501.5 L700.4,502.9 L701.9,504.4 L703.3,505.9" stroke="#00FF00"/>
<path d="M96.0,772.6 L128.0,772.6" stroke="#C8401C"/>
<path d="M96.0,773.3 L97.4,773.3 L98.8,773.3 L100.2,773.3 L101.6,773.3 L103.0,773.3 L104.4,773.3 L105.8,773.3 L107.2,773.3 L108.6,773.3 L110.1,773.3 L111.5,773.3 L112.9,773.3 L114.3,773.3 L115.7,773.3 L117.1,773.3 L118.5,773.3 L119.9,773.3 L121.3,773.3 L122.7,773.3 L124.1,773.1 L125.5,772.7 L126.9,772.3 L128.3,771.9 L129.7,771.4 L131.1,770.8 L132.5,770.2 L133.9,769.5 L135.4,768.9 L136.8,768.2 L138.2,767.5 L139.6,766.7 L141.0,766.0 L142.4,765.2 L143.8,764.5 L145.2,763.8 L146.6,763.0 L148.0,762.1 L149.4,761.3 L150.8,760.3 L152.2,759.2 L153.6,758.0 L155.0,756.7 L156.4,755.3 L157.8,753.8 L159.2,752.3 L160.7,750.8 L162.1,749.3 L163.5,747.7 L164.9,746.1 L166.3,744.6 L167.7,743.0 L169.1,741.5 L170.5,739.8 L171.9,737.9 L173.3,735.9 L174.7,733.7 L176.1,731.5 L177.5,729.3 L178.9,727.1 L180.3,724.9 L181.7,722.6 L183.1,720.4 L184.5,718.3 L186.0,716.2 L187.4,714.1 L188.8,712.0 L190.2,710.0 L191.6,707.9 L193.0,705.9 L194.4,703.9 L195.8,701.9 L197.2,700.0 L198.6,698.0 L200.0,696.0 L201.4,694.0 L202.8,692.1 L204.2,690.1 L205.6,688.2 L207.0,686.3 L208.4,684.4 L209.8,682.4 L211.3,680.5 L212.7,678.6 L214.1,676.7 L215.5,674.8 L216.9,672.9 L218.3,670.9 L219.7,669.0 L221.1,667.0 L222.5,665.0 L223.9,663.1 L225.3,661.1 L226.7,659.1 L228.1,657.1 L229.5,655.0 L230.9,653.0 L232.3,651.0 L233.7,649.0 L235.1,646.9 L236.5,644.9 L238.0,642.9 L239.4,640.8 L240.8,638.8 L242.2,636.7 L243.6,634.7 L245.0,632.7 L246.4,630.6 L247.8,628.6 L249.2,626.6 L250.6,624.5 L252.0,622.5 L253.4,620.5 L254.8,618.5 L256.2,616.5 L257.6,614.5 L259.0,612.5 L260.4,610.5 L261.8,608.6 L263.3,606.6 L264.7,604.7 L266.1,602.7 L267.5,600.8 L268.9,598.9 L270.3,597.0 L271.7,595.1 L273.1,593.3 L274.5,591.4 L275.9,589.6 L277.3,587.8 L278.7,586.0 L280.1,584.2 L281.5,582.5 L282.9,580.7 L284.3,579.0 L285.7,577.4 L287.1,575.8 L288.6,574.2 L290.0,572.7 L291.4,571.1 L292.8,569.6 L294.2,568.0 L295.6,566.3 L297.0,564.7 L298.4,563.0 L299.8,561.3 L301.2,559.6 L302.6,557.9 L304.0,556.1 L305.4,554.4 L306.8,552.6 L308.2,550.9 L309.6,549.1 L311.0,547.3 L312.4,545.6 L313.9,543.8 L315.3,542.0 L316.7,540.2 L318.1,538.4 L319.5,536.6 L320.9,534.8 L322.3,533.0 L323.7,531.2 L325.1,529.4 L326.5,527.5 L327.9,525.7 L329.3,523.9 L330.7,522.1 L332.1,520.4 L333.5,518.6 L334.9,516.8 L336.3,514.9 L337.7,513.1 L339.1,511.3 L340.6,509.5 L342.0,507.6 L343.4,505.8 L344.8,503.9 L346.2,502.1 L347.6,500.2 L349.0,498.4 L350.4,496.5 L351.8,494.7 L353.2,492.8 L354.6,491.0 L356.0,489.1 L357.4,487.3 L358.8,485.4 L360.2,483.6 L361.6,481.7 L363.0,479.9 L364.4,478.1 L365.9,476.3 L367.3,474.5 L368.7,472.7 L370.1,470.9 L371.5,469.2 L372.9,467.4 L374.3,465.7 L375.7,463.9 L377.1,462.2 L378.5,460.5 L379.9,458.8 L381.3,457.2 L382.7,455.5 L384.1,453.9 L385.5,452.3 L386.9,450.7 L388.3,449.1 L389.7,447.5 L391.2,445.9 L392.6,444.3 L394.0,442.8 L395.4,441.2 L396.8,439.7 L398.2,438.1 L399.6,436.6 L401.0,435.1 L402.4,433.6 L403.8,432.0 L405.2,430.5 L406.6,429.0 L408.0,427.5 L409.4,426.0 L410.8,424.5 L412.2,422.9 L413.6,421.4 L415.0,419.9 L416.5,418.4 L417.9,416.9 L419.3,415.3 L420.7,413.8 L422.1,412.3 L423.5,410.7 L424.9,409.2 L426.3,407.7 L427.7,406.1 L429.1,404.6 L430.5,403.1 L431.9,401.5 L433.3,400.0 L434.7,398.5 L436.1,396.9 L437.5,395.4 L438.9,393.9 L440.3,392.4 L441.8,390.8 L443.2,389.3 L444.6,387.8 L446.0,386.3 L447.4,384.8 L448.8,383.3 L450.2,381.8 L451.6,380.3 L453.0,378.8 L454.4,377.3 L455.8,375.8 L457.2,374.4 L458.6,372.9 L460.0,371.4 L461.4,370.0 L462.8,368.6 L464.2,367.1 L465.6,365.7 L467.0,364.3 L468.5,362.9 L469.9,361.5 L471.3,360.1 L472.7,358.7 L474.1,357.3 L475.5,356.0 L476.9,354.6 L478.3,353.3 L479.7,351.9 L481.1,350.6 L482.5,349.3 L483.9,348.0 L485.3,346.7 L486.7,345.4 L488.1,344.1 L489.5,342.8 L490.9,341.6 L492.3,340.3 L493.8,339.0 L495.2,337.8 L496.6,336.6 L498.0,335.4 L499.4,334.2 L500.8,333.1 L502.2,332.0 L503.6,330.9 L505.0,329.8 L506.4,328.7 L507.8,327.7 L509.2,326.7 L510.6,325.7 L512.0,324.8 L513.4,323.8 L514.8,322.9 L516.2,322.0 L517.6,321.1 L519.1,320.2 L520.5,319.3 L521.9,318.4 L523.3,317.6 L524.7,316.7 L526.1,315.9 L527.5,315.1 L528.9,314.2 L530.3,313.4 L531.7,312.6 L533.1,311.8 L534.5,311.0 L535.9,310.2 L537.3,309.4 L538.7,308.6 L540.1,307.8 L541.5,307.0 L542.9,306.2 L544.4,305.4 L545.8,304.6 L547.2,303.8 L548.6,303.0 L550.0,302.2 L551.4,301.5 L552.8,300.7 L554.2,299.9 L555.6,299.2 L557.0,298.5 L558.4,297.7 L559.8,297.1 L561.2,296.4 L562.6,295.7 L564.0,295.1 L565.4,294.5 L566.8,293.9 L568.2,293.3 L569.6,292.7 L571.1,292.1 L572.5,291.6 L573.9,291.0 L575.3,290.5 L576.7,290.0 L578.1,289.5 L579.5,289.0 L580.9,288.6 L582.3,288.2 L583.7,287.8 L585.1,287.5 L586.5,287.1 L587.9,286.8 L589.3,286.5 L590.7,286.2 L592.1,285.9 L593.5,285.6 L594.9,285.3 L596.4,285.1 L597.8,284.9 L599.2,284.6 L600.6,284.4 L602.0,284.2 L603.4,284.1 L604.8,283.9 L606.2,283.8 L607.6,283.6 L609.0,283.5 L610.4,283.3 L611.8,283.2 L613.2,283.1 L614.6,283.0 L616.0,282.9 L617.4,282.9 L618.8,282.9 L620.2,282.9 L621.7,283.0 L623.1,283.0 L624.5,283.1 L625.9,283.2 L627.3,283.3 L628.7,283.4 L630.1,283.5 L631.5,283.7 L632.9,283.8 L634.3,284.0 L635.7,284.1 L637.1,284.3 L638.5,284.5 L639.9,284.8 L641.3,285.1 L642.7,285.5 L644.1,285.9 L645.5,286.3 L647.0,286.8 L648.4,287.3 L649.8,287.9 L651.2,288.4 L652.6,288.9 L654.0,289.4 L655.4,289.9 L656.8,290.4 L658.2,290.8 L659.6,291.3 L661.0,291.8 L662.4,292.3 L663.8,292.9 L665.2,293.4 L666.6,294.0 L668.0,294.7 L669.4,295.3 L670.8,296.0 L672.3,296.8 L673.7,297.7 L675.1,298.7 L676.5,299.7 L677.9,300.9 L679.3,302.1 L680.7,303.4 L682.1,304.7 L683.5,306.1 L684.9,307.5" stroke="#FF0000"/>
<path d="M96.0,773.3 L97.4,773.3 L98.8,773.3 L100.2,773.3 L101.6,773.3 L103.0,773.3 L104.4,773.3 L105.8,773.3 L107.2,773.3 L108.6,773.3 L110.1,773.3 L111.5,773.3 L112.9,773.3 L114.3,773.3 L115.7,773.3 L117.1,773.3 L118.5,773.3 L119.9,773.3 L121.3,773.3 L122.7,773.3 L124.1,773.3 L125.5,773.3 L126.9,773.3 L128.3,773.3 L129.7,773.3 L131.1,773.1 L132.5,772.9 L133.9,772.6 L135.3,772.2 L136.7,771.7 L138.2,771.0 L139.6,770.1 L141.0,769.2 L142.4,768.3 L143.8,767.4 L145.2,766.4 L146.6,765.4 L148.0,764.0 L149.4,762.4 L150.8,760.7 L152.2,758.9 L153.6,757.1 L155.0,755.2 L156.4,753.3 L157.8,751.4 L159.2,749.4 L160.6,747.5 L162.0,745.4 L163.4,743.3 L164.8,740.9 L166.3,738.2 L167.7,735.2 L169.1,732.1 L170.5,728.9 L171.9,725.6 L173.3,722.5 L174.7,719.6 L176.1,716.9 L177.5,714.2 L178.9,711.6 L180.3,709.0 L181.7,706.5 L183.1,704.0 L184.5,701.5 L185.9,699.0 L187.3,696.4 L188.7,693.9 L190.1,691.3 L191.5,688.8 L192.9,686.3 L194.4,683.8 L195.8,681.3 L197.2,678.8 L198.6,676.2 L200.0,673.7 L201.4,671.2 L202.8,668.6 L204.2,666.0 L205.6,663.5 L207.0,660.9 L208.4,658.3 L209.8,655.7 L211.2,653.1 L212.6,650.5 L214.0,647.8 L215.4,645.2 L216.8,642.6 L218.2,640.0 L219.6,637.3 L221.0,634.7 L222.5,632.1 L223.9,629.4 L225.3,626.8 L226.7,624.2 L228.1,621.6 L229.5,618.9 L230.9,616.3 L232.3,613.7 L233.7,611.1 L235.1,608.5 L236.5,606.0 L237.9,603.4 L239.3,600.8 L240.7,598.3 L242.1,595.7 L243.5,593.2 L244.9,590.7 L246.3,588.2 L247.7,585.7 L249.1,583.2 L250.6,580.8 L252.0,578.4 L253.4,576.0 L254.8,573.6 L256.2,571.3 L257.6,569.0 L259.0,566.7 L260.4,564.3 L261.8,561.9 L263.2,559.5 L264.6,557.1 L266.0,554.7 L267.4,552.3 L268.8,549.9 L270.2,547.5 L271.6,545.0 L273.0,542.6 L274.4,540.2 L275.8,537.7 L277.2,535.3 L278.7,532.9 L280.1,530.4 L281.5,528.0 L282.9,525.5 L284.3,523.1 L285.7,520.6 L287.1,518.2 L288.5,515.7 L289.9,513.2 L291.3,510.8 L292.7,508.3 L294.1,505.9 L295.5,503.4 L296.9,500.9 L298.3,498.5 L299.7,496.0 L301.1,493.6 L302.5,491.1 L303.9,488.7 L305.3,486.2 L306.8,483.7 L308.2,481.3 L309.6,478.8 L311.0,476.4 L312.4,473.9 L313.8,471.5 L315.2,469.1 L316.6,466.6 L318.0,464.2 L319.4,461.8 L320.8,459.3 L322.2,456.9 L323.6,454.5 L325.0,452.1 L326.4,449.7 L327.8,447.3 L329.2,444.8 L330.6,442.4 L332.0,440.0 L333.4,437.6 L334.9,435.2 L336.3,432.8 L337.7,430.4 L339.1,428.0 L340.5,425.6 L341.9,423.2 L343.3,420.8 L344.7,418.4 L346.1,416.0 L347.5,413.6 L348.9,411.2 L350.3,408.8 L351.7,406.4 L353.1,404.0 L354.5,401.7 L355.9,399.3 L357.3,396.9 L358.7,394.4 L360.1,392.0 L361.5,389.5 L363.0,387.0 L364.4,384.6 L365.8,382.1 L367.2,379.6 L368.6,377.1 L370.0,374.7 L371.4,372.2 L372.8,369.8 L374.2,367.4 L375.6,365.1 L377.0,362.8 L378.4,360.5 L379.8,358.3 L381.2,356.2 L382.6,354.1 L384.0,352.0 L385.4,350.1 L386.8,348.4 L388.2,346.6 L389.6,344.8 L391.1,342.9 L392.5,341.1 L393.9,339.2 L395.3,337.3 L396.7,335.4 L398.1,333.5 L399.5,331.5 L400.9,329.6 L402.3,327.6 L403.7,325.7 L405.1,323.7 L406.5,321.8 L407.9,319.8 L409.3,317.8 L410.7,315.8 L412.1,313.8 L413.5,311.8 L414.9,309.8 L416.3,307.8 L417.7,305.7 L419.2,303.7 L420.6,301.7 L422.0,299.7 L423.4,297.6 L424.8,295.6 L426.2,293.6 L427.6,291.5 L429.0,289.5 L430.4,287.5 L431.8,285.5 L433.2,283.5 L434.6,281.4 L436.0,279.4 L437.4,277.4 L438.8,275.4 L440.2,273.4 L441.6,271.4 L443.0,269.4 L444.4,267.4 L445.8,265.5 L447.3,263.5 L448.7,261.5 L450.1,259.6 L451.5,257.7 L452.9,255.7 L454.3,253.8 L455.7,251.9 L457.1,250.0 L458.5,248.1 L459.9,246.3 L461.3,244.4 L462.7,242.6 L464.1,240.7 L465.5,238.9 L466.9,237.1 L468.3,235.2 L469.7,233.4 L471.1,231.6 L472.5,229.8 L473.9,228.1 L475.4,226.3 L476.8,224.5 L478.2,222.7 L479.6,221.0 L481.0,219.3 L482.4,217.5 L483.8,215.8 L485.2,214.1 L486.6,212.4 L488.0,210.7 L489.4,209.0 L490.8,207.3 L492.2,205.7 L493.6,204.0 L495.0,202.3 L496.4,200.7 L497.8,199.0 L499.2,197.4 L500.6,195.8 L502.0,194.2 L503.5,192.7 L504.9,191.2 L506.3,189.7 L507.7,188.2 L509.1,186.8 L510.5,185.4 L511.9,184.0 L513.3,182.7 L514.7,181.4 L516.1,180.1 L517.5,178.8 L518.9,177.5 L520.3,176.2 L521.7,175.0 L523.1,173.7 L524.5,172.4 L525.9,171.1 L527.3,169.8 L528.7,168.5 L530.1,167.2 L531.6,165.9 L533.0,164.6 L534.4,163.3 L535.8,162.1 L537.2,160.8 L538.6,159.6 L540.0,158.5 L541.4,157.4 L542.8,156.2 L544.2,155.1 L545.6,154.1 L547.0,153.0 L548.4,152.0 L549.8,151.0 L551.2,150.0 L552.6,149.0 L554.0,148.1 L555.4,147.1 L556.8,146.2 L558.2,145.3 L559.7,144.5 L561.1,143.6 L562.5,142.8 L563.9,142.0 L565.3,141.2 L566.7,140.4 L568.1,139.7 L569.5,139.0 L570.9,138.4 L572.3,137.7 L573.7,137.1 L575.1,136.4 L576.5,135.7 L577.9,135.0 L579.3,134.3 L580.7,133.6 L582.1,132.8 L583.5,132.1 L584.9,131.4 L586.3,130.7 L587.8,130.1 L589.2,129.4 L590.6,128.8 L592.0,128.3 L593.4,127.7 L594.8,127.2 L596.2,126.8 L597.6,126.4 L599.0,126.1 L600.4,125.8 L601.8,125.5 L603.2,125.2 L604.6,125.0 L606.0,124.7 L607.4,124.4 L608.8,124.2 L610.2,124.0 L611.6,123.8 L613.0,123.6 L614.4,123.4 L615.9,123.2 L617.3,123.0 L618.7,122.9 L620.1,122.7 L621.5,122.6 L622.9,122.5 L624.3,122.4 L625.7,122.2 L627.1,122.1 L628.5,122.0 L629.9,122.0 L631.3,121.9 L632.7,121.9 L634.1,122.0 L635.5,122.1 L636.9,122.3 L638.3,122.5 L639.7,122.8 L641.1,123.1 L642.5,123.5 L644.0,123.9 L645.4,124.3 L646.8,124.7 L648.2,125.2 L649.6,125.6 L651.0,126.1 L652.4,126.6 L653.8,127.0 L655.2,127.5 L656.6,128.1 L658.0,128.7 L659.4,129.3 L660.8,130.0 L662.2,130.7 L663.6,131.5 L665.0,132.3 L666.4,133.1 L667.8,133.9 L669.2,134.8 L670.6,135.6 L672.1,136.5 L673.5,137.5 L674.9,138.5 L676.3,139.5 L677.7,140.6 L679.1,141.7 L680.5,142.9 L681.9,144.1 L683.3,145.3 L684.7,146.6" stroke="#76A5CC"/>
<path d="M96.0,773.3 L97.4,773.3 L98.9,773.3 L100.3,773.3 L101.7,773.3 L103.2,773.3 L104.6,773.3 L106.0,773.3 L107.5,773.3 L108.9,773.3 L110.3,773.3 L111.8,773.3 L113.2,773.3 L114.6,773.3 L116.1,773.3 L117.5,773.3 L118.9,773.3 L120.4,773.3 L121.8,773.3 L123.2,773.3 L124.7,773.3 L126.1,773.3 L127.5,773.2 L129.0,773.0 L130.4,772.7 L131.8,772.3 L133.3,771.8 L134.7,770.9 L136.1,769.9 L137.6,768.8 L139.0,767.8 L140.4,766.9 L141.9,765.9 L143.3,764.8 L144.7,763.7 L146.2,762.3 L147.6,760.7 L149.0,758.9 L150.5,757.0 L151.9,755.1 L153.3,753.2 L154.8,751.2 L156.2,749.0 L157.6,746.4 L159.1,743.5 L160.5,740.6 L161.9,737.6 L163.4,734.4 L164.8,731.1 L166.2,727.7 L167.7,724.2 L169.1,720.9 L170.5,717.9 L172.0,715.0 L173.4,712.2 L174.9,709.4 L176.3,706.7 L177.7,704.1 L179.2,701.4 L180.6,698.7 L182.0,696.0 L183.5,693.3 L184.9,690.5 L186.3,687.8 L187.8,685.1 L189.2,682.4 L190.6,679.6 L192.1,676.9 L193.5,674.2 L194.9,671.5 L196.4,668.7 L197.8,666.0 L199.2,663.2 L200.7,660.4 L202.1,657.6 L203.5,654.9 L205.0,652.1 L206.4,649.3 L207.8,646.5 L209.3,643.7 L210.7,640.9 L212.1,638.1 L213.6,635.3 L215.0,632.5 L216.4,629.7 L217.9,626.9 L219.3,624.1 L220.7,621.3 L222.2,618.5 L223.6,615.7 L225.0,613.0 L226.5,610.2 L227.9,607.4 L229.3,604.7 L230.8,601.9 L232.2,599.2 L233.6,596.5 L235.1,593.8 L236.5,591.1 L237.9,588.4 L239.4,585.8 L240.8,583.1 L242.2,580.5 L243.7,577.9 L245.1,575.3 L246.5,572.8 L248.0,570.3 L249.4,567.8 L250.8,565.2 L252.3,562.7 L253.7,560.2 L255.1,557.7 L256.6,555.2 L258.0,552.7 L259.4,550.2 L260.9,547.7 L262.3,545.2 L263.7,542.7 L265.2,540.2 L266.6,537.7 L268.0,535.3 L269.5,532.8 L270.9,530.3 L272.3,527.8 L273.8,525.3 L275.2,522.9 L276.6,520.4 L278.1,517.9 L279.5,515.4 L280.9,513.0 L282.4,510.5 L283.8,508.0 L285.2,505.5 L286.7,503.1 L288.1,500.6 L289.5,498.1 L291.0,495.6 L292.4,493.1 L293.8,490.6 L295.3,488.1 L296.7,485.6 L298.1,483.1 L299.6,480.6 L301.0,478.1 L302.4,475.6 L303.9,473.1 L305.3,470.6 L306.7,468.0 L308.2,465.5 L309.6,462.9 L311.0,460.4 L312.5,457.8 L313.9,455.3 L315.3,452.7 L316.8,450.0 L318.2,447.4 L319.6,444.8 L321.1,442.1 L322.5,439.4 L324.0,436.8 L325.4,434.1 L326.8,431.4 L328.3,428.7 L329.7,426.1 L331.1,423.4 L332.6,420.8 L334.0,418.1 L335.4,415.5 L336.9,412.9 L338.3,410.3 L339.7,407.8 L341.2,405.3 L342.6,402.8 L344.0,400.3 L345.5,397.9 L346.9,395.5 L348.3,393.1 L349.8,390.8 L351.2,388.5 L352.6,386.2 L354.1,383.9 L355.5,381.7 L356.9,379.4 L358.4,377.2 L359.8,374.9 L361.2,372.7 L362.7,370.5 L364.1,368.3 L365.5,366.0 L367.0,363.8 L368.4,361.5 L369.8,359.3 L371.3,357.0 L372.7,354.7 L374.1,352.4 L375.6,350.0 L377.0,347.6 L378.4,345.2 L379.9,342.7 L381.3,340.3 L382.7,337.8 L384.2,335.4 L385.6,333.0 L387.0,330.6 L388.5,328.4 L389.9,326.1 L391.3,323.9 L392.8,321.7 L394.2,319.6 L395.6,317.4 L397.1,315.3 L398.5,313.2 L399.9,311.1 L401.4,309.0 L402.8,306.9 L404.2,304.9 L405.7,302.8 L407.1,300.8 L408.5,298.7 L410.0,296.7 L411.4,294.7 L412.8,292.7 L414.3,290.7 L415.7,288.8 L417.1,286.8 L418.6,284.8 L420.0,282.9 L421.4,280.9 L422.9,279.0 L424.3,277.0 L425.7,275.1 L427.2,273.1 L428.6,271.2 L430.0,269.3 L431.5,267.3 L432.9,265.4 L434.3,263.5 L435.8,261.5 L437.2,259.6 L438.6,257.7 L440.1,255.7 L441.5,253.8 L442.9,251.9 L444.4,249.9 L445.8,247.9 L447.2,246.0 L448.7,244.0 L450.1,242.0 L451.5,240.1 L453.0,238.1 L454.4,236.1 L455.8,234.1 L457.3,232.1 L458.7,230.2 L460.1,228.2 L461.6,226.3 L463.0,224.4 L464.4,222.5 L465.9,220.7 L467.3,218.8 L468.7,217.0 L470.2,215.3 L471.6,213.5 L473.1,211.7 L474.5,210.0 L475.9,208.3 L477.4,206.6 L478.8,204.9 L480.2,203.2 L481.7,201.6 L483.1,199.9 L484.5,198.3 L486.0,196.7 L487.4,195.1 L488.8,193.6 L490.3,192.0 L491.7,190.4 L493.1,188.9 L494.6,187.4 L496.0,185.9 L497.4,184.4 L498.9,182.9 L500.3,181.5 L501.7,180.0 L503.2,178.6 L504.6,177.3 L506.0,176.0 L507.5,174.7 L508.9,173.4 L510.3,172.2 L511.8,171.0 L513.2,169.8 L514.6,168.6 L516.1,167.5 L517.5,166.4 L518.9,165.2 L520.4,164.1 L521.8,163.0 L523.2,162.0 L524.7,160.9 L526.1,159.9 L527.5,158.8 L529.0,157.8 L530.4,156.8 L531.8,155.8 L533.3,154.8 L534.7,153.8 L536.1,152.8 L537.6,151.8 L539.0,150.8 L540.4,149.8 L541.9,148.8 L543.3,147.9 L544.7,146.9 L546.2,146.0 L547.6,145.0 L549.0,144.1 L550.5,143.2 L551.9,142.3 L553.3,141.5 L554.8,140.7 L556.2,139.8 L557.6,139.0 L559.1,138.3 L560.5,137.5 L561.9,136.8 L563.4,136.1 L564.8,135.4 L566.2,134.6 L567.7,133.9 L569.1,133.2 L570.5,132.6 L572.0,131.9 L573.4,131.2 L574.8,130.6 L576.3,130.0 L577.7,129.5 L579.1,128.9 L580.6,128.4 L582.0,127.9 L583.4,127.5 L584.9,127.1 L586.3,126.7 L587.7,126.4 L589.2,126.0 L590.6,125.7 L592.0,125.3 L593.5,125.0 L594.9,124.6 L596.3,124.3 L597.8,124.0 L599.2,123.8 L600.6,123.5 L602.1,123.3 L603.5,123.1 L604.9,123.0 L606.4,122.9 L607.8,122.8 L609.2,122.8 L610.7,122.8 L612.1,122.9 L613.5,123.0 L615.0,123.2 L616.4,123.3 L617.8,123.5 L619.3,123.7 L620.7,124.0 L622.2,124.2 L623.6,124.5 L625.0,124.7 L626.5,125.0 L627.9,125.3 L629.3,125.6 L630.8,126.0 L632.2,126.4 L633.6,126.8 L635.1,127.3 L636.5,127.8 L637.9,128.3 L639.4,128.8 L640.8,129.4 L642.2,130.0 L643.7,130.6 L645.1,131.3 L646.5,131.9 L648.0,132.6 L649.4,133.3 L650.8,134.1 L652.3,134.8 L653.7,135.6 L655.1,136.4 L656.6,137.3 L658.0,138.3 L659.4,139.4 L660.9,140.5 L662.3,141.7 L663.7,142.9 L665.2,144.2 L666.6,145.5 L668.0,146.9 L669.5,148.2 L670.9,149.5 L672.3,150.9 L673.8,152.2 L675.2,153.5 L676.6,154.9 L678.1,156.2 L679.5,157.6 L680.9,159.0 L682.4,160.4 L683.8,161.8 L685.2,163.3 L686.7,164.7 L688.1,166.2 L689.5,167.7 L691.0,169.2 L692.4,170.8 L693.8,172.3 L695.3,173.9 L696.7,175.5" stroke="#FFA412"/>
</g>
<line x1="151.5" y1="31.5" x2="151.5" y2="782.5" stroke="#000" stroke-width="1" shape-rendering="crispEdges"/>
<text class="tk" transform="translate(141.3,781.8) scale(1.09,1)" text-anchor="end">0</text>
<text class="tk" transform="translate(141.3,674.8) scale(1.09,1)" text-anchor="end">2</text>
<text class="tk" transform="translate(141.3,568.8) scale(1.09,1)" text-anchor="end">4</text>
<text class="tk" transform="translate(141.3,461.8) scale(1.09,1)" text-anchor="end">6</text>
<text class="tk" transform="translate(141.3,354.8) scale(1.09,1)" text-anchor="end">8</text>
<text class="tk" transform="translate(141.3,248.8) scale(1.09,1)" text-anchor="end">10</text>
<text class="tk" transform="translate(141.3,141.8) scale(1.09,1)" text-anchor="end">12</text>
<text class="tk" transform="translate(141.3,34.8) scale(1.09,1)" text-anchor="end">14</text>
<text class="tk" transform="translate(32.3,800) scale(1.1,1)" text-anchor="middle">-1</text>
<text class="tk" transform="translate(150.3,800) scale(1.1,1)" text-anchor="middle">0</text>
<text class="tk" transform="translate(269.3,800) scale(1.1,1)" text-anchor="middle">1</text>
<text class="tk" transform="translate(387.3,800) scale(1.1,1)" text-anchor="middle">2</text>
<text class="tk" transform="translate(506.3,800) scale(1.1,1)" text-anchor="middle">3</text>
<text class="tk" transform="translate(624.3,800) scale(1.1,1)" text-anchor="middle">4</text>
<text class="tk" transform="translate(743.3,800) scale(1.1,1)" text-anchor="middle">5</text>
<text class="ttl" x="387" y="823" text-anchor="middle" letter-spacing="-0.14">Distance to Plain [mm]</text>
<text class="ttl" transform="translate(23,404) rotate(-90)" text-anchor="middle">Force at DeNoüy Ring [mN]</text>
<svg x="161" y="7" width="256" height="263" viewBox="161 7 256 263">
<rect x="161.5" y="7.5" width="255" height="262" fill="#FEDAEB" stroke="#000" stroke-width="1" shape-rendering="crispEdges"/>
<rect x="178" y="32" width="27" height="5" fill="#FFA412" shape-rendering="crispEdges"/>
<text class="lg" transform="translate(211.5,37.9) scale(0.893,1)">ID23844, Wasser, 'Standardring'  (KoWiKonst.)</text>
<rect x="178" y="53" width="27" height="4" fill="#76A5CC" shape-rendering="crispEdges"/>
<text class="lg" transform="translate(211.5,58.9) scale(0.893,1)">ID23843, Wasser, 'Standardring'  (KoWiKonst.)</text>
<rect x="178" y="74" width="27" height="4" fill="#FF0000" shape-rendering="crispEdges"/>
<text class="lg" transform="translate(211.5,79.9) scale(0.9007,1)">ID23842, Wasser, 13mm 'Kleinring' (KoWiKonst.)</text>
<rect x="178" y="94" width="27" height="5" fill="#00FF00" shape-rendering="crispEdges"/>
<text class="lg" transform="translate(211.5,99.9) scale(0.9007,1)">ID23841, Wasser, 13mm 'Kleinring' (ohne KoWiKonst.)</text>
<rect x="178" y="115" width="27" height="4" fill="#108080" shape-rendering="crispEdges"/>
<text class="lg" transform="translate(211.5,120.9) scale(0.9007,1)">ID23840, Wasser, 25mm 'Großring' (ohne KoWiKonst.)</text>
<rect x="178" y="136" width="27" height="4" fill="#FFC8CC" shape-rendering="crispEdges"/>
<text class="lg" transform="translate(211.5,141.9) scale(0.898,1)">ID23839, Wasser 25mm 'Großring' (KoWiKonst.)</text>
<rect x="178" y="156" width="27" height="5" fill="#FF66FF" shape-rendering="crispEdges"/>
<text class="lg" transform="translate(211.5,161.9) scale(0.893,1)">ID23838, Wasser, 'Standardring'  (KoWiKonst.)</text>
<rect x="178" y="177" width="27" height="4" fill="#C8401C" shape-rendering="crispEdges"/>
<text class="lg" transform="translate(211.5,182.9) scale(0.893,1)">ID23836,  Wasser (ohne KoWiKonst.-Pumpe)</text>
<rect x="178" y="198" width="27" height="4" fill="#000000" shape-rendering="crispEdges"/>
<text class="lg" transform="translate(211.5,203.9) scale(0.893,1)">ID23835, Wasser, 'Standardring'  (KoWiKonst.)</text>
<rect x="178" y="219" width="27" height="4" fill="#6A6A6A" shape-rendering="crispEdges"/>
<text class="lg" transform="translate(211.5,224.9) scale(0.893,1)">ID23834, Wasser, 'Standardring'  (KoWiKonst.)</text>
<rect x="178" y="239" width="27" height="5" fill="#0000FF" shape-rendering="crispEdges"/>
<text class="lg" transform="translate(211.5,244.9) scale(0.893,1)">ID23833, Wasser, 'Standardring'  (KoWiKonst.)</text>
</svg>
</svg></body></html>
